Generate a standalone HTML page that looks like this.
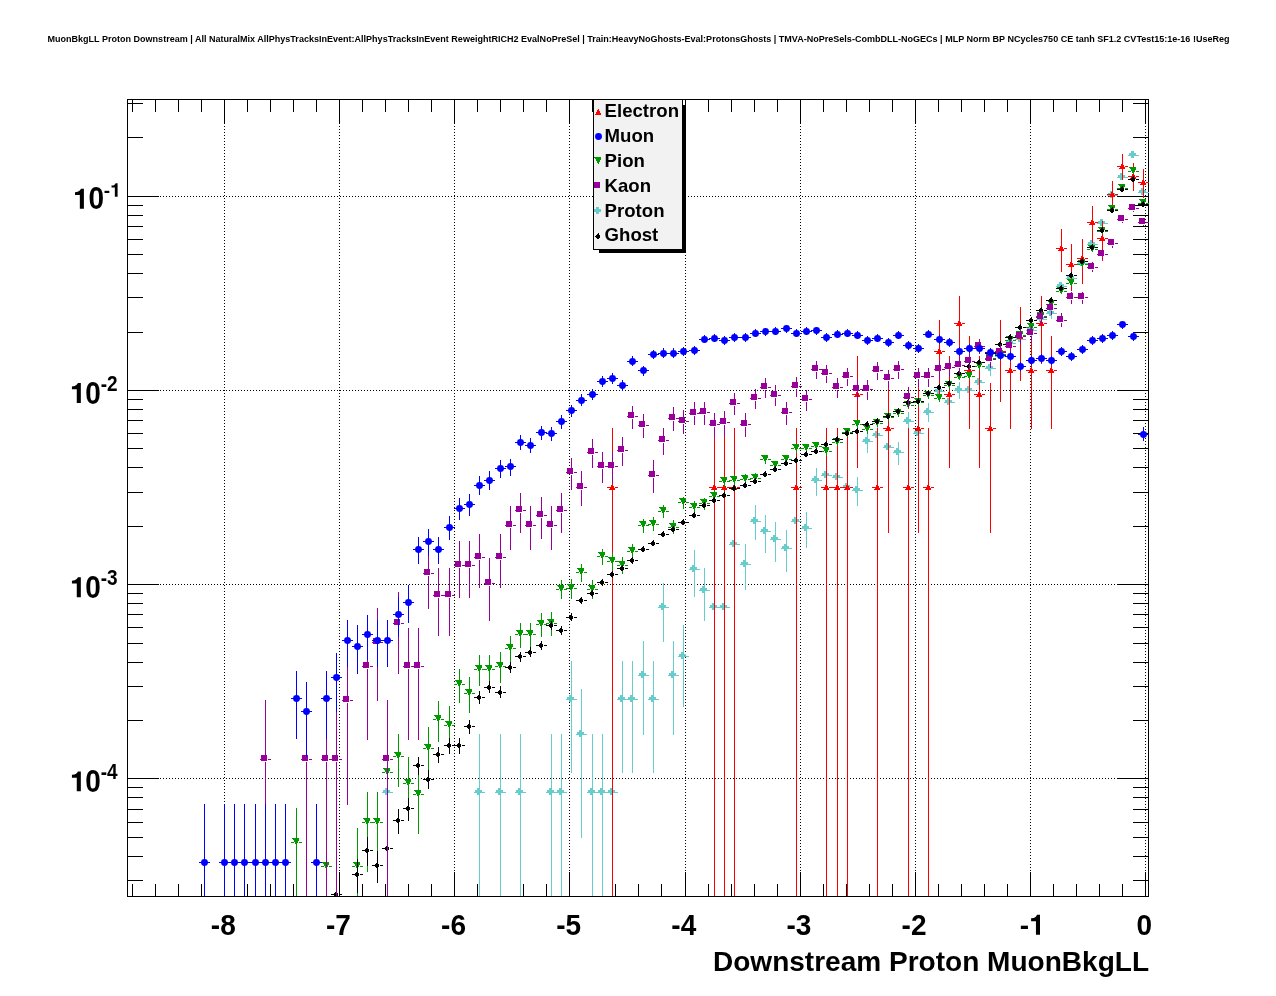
<!DOCTYPE html><html><head><meta charset="utf-8"><title>plot</title><style>
html,body{margin:0;padding:0;background:#fff;}body{width:1276px;height:996px;overflow:hidden;font-family:"Liberation Sans",sans-serif;}
svg{display:block;will-change:transform;}text{font-family:"Liberation Sans",sans-serif;font-weight:bold;fill:#000;}
.ax line,.ax rect{stroke:#000;stroke-width:1;fill:none;shape-rendering:crispEdges;}
.gr line{stroke:#000;stroke-width:1;stroke-dasharray:1 2;shape-rendering:crispEdges;}
</style></head><body>
<svg width="1276" height="996" viewBox="0 0 1276 996">
<rect x="0" y="0" width="1276" height="996" fill="#ffffff"/>
<text x="47.5" y="42" font-size="9.05" textLength="1182" lengthAdjust="spacingAndGlyphs">MuonBkgLL Proton Downstream | All NaturalMix AllPhysTracksInEvent:AllPhysTracksInEvent ReweightRICH2 EvalNoPreSel | Train:HeavyNoGhosts-Eval:ProtonsGhosts | TMVA-NoPreSels-CombDLL-NoGECs | MLP Norm BP NCycles750 CE tanh SF1.2 CVTest15:1e-16 !UseReg</text>
<g class="gr">
<line x1="224.5" y1="126" x2="224.5" y2="872"/>
<line x1="339.5" y1="126" x2="339.5" y2="872"/>
<line x1="454.5" y1="126" x2="454.5" y2="872"/>
<line x1="569.5" y1="126" x2="569.5" y2="872"/>
<line x1="685.5" y1="126" x2="685.5" y2="872"/>
<line x1="800.5" y1="126" x2="800.5" y2="872"/>
<line x1="915.5" y1="126" x2="915.5" y2="872"/>
<line x1="1030.5" y1="126" x2="1030.5" y2="872"/>
<line x1="1145.5" y1="126" x2="1145.5" y2="872"/>
<line x1="160" y1="196.5" x2="1117" y2="196.5"/>
<line x1="160" y1="390.5" x2="1117" y2="390.5"/>
<line x1="160" y1="584.5" x2="1117" y2="584.5"/>
<line x1="160" y1="778.5" x2="1117" y2="778.5"/>
</g>
<g class="ax">
<rect x="127.5" y="99.5" width="1021.0" height="797.0"/>
<line x1="132.5" y1="896.5" x2="132.5" y2="884.0"/>
<line x1="132.5" y1="99.5" x2="132.5" y2="112.0"/>
<line x1="155.5" y1="896.5" x2="155.5" y2="884.0"/>
<line x1="155.5" y1="99.5" x2="155.5" y2="112.0"/>
<line x1="178.5" y1="896.5" x2="178.5" y2="884.0"/>
<line x1="178.5" y1="99.5" x2="178.5" y2="112.0"/>
<line x1="201.5" y1="896.5" x2="201.5" y2="884.0"/>
<line x1="201.5" y1="99.5" x2="201.5" y2="112.0"/>
<line x1="224.5" y1="896.5" x2="224.5" y2="872.0"/>
<line x1="224.5" y1="99.5" x2="224.5" y2="124.0"/>
<line x1="247.5" y1="896.5" x2="247.5" y2="884.0"/>
<line x1="247.5" y1="99.5" x2="247.5" y2="112.0"/>
<line x1="270.5" y1="896.5" x2="270.5" y2="884.0"/>
<line x1="270.5" y1="99.5" x2="270.5" y2="112.0"/>
<line x1="293.5" y1="896.5" x2="293.5" y2="884.0"/>
<line x1="293.5" y1="99.5" x2="293.5" y2="112.0"/>
<line x1="316.5" y1="896.5" x2="316.5" y2="884.0"/>
<line x1="316.5" y1="99.5" x2="316.5" y2="112.0"/>
<line x1="339.5" y1="896.5" x2="339.5" y2="872.0"/>
<line x1="339.5" y1="99.5" x2="339.5" y2="124.0"/>
<line x1="362.5" y1="896.5" x2="362.5" y2="884.0"/>
<line x1="362.5" y1="99.5" x2="362.5" y2="112.0"/>
<line x1="385.5" y1="896.5" x2="385.5" y2="884.0"/>
<line x1="385.5" y1="99.5" x2="385.5" y2="112.0"/>
<line x1="408.5" y1="896.5" x2="408.5" y2="884.0"/>
<line x1="408.5" y1="99.5" x2="408.5" y2="112.0"/>
<line x1="431.5" y1="896.5" x2="431.5" y2="884.0"/>
<line x1="431.5" y1="99.5" x2="431.5" y2="112.0"/>
<line x1="454.5" y1="896.5" x2="454.5" y2="872.0"/>
<line x1="454.5" y1="99.5" x2="454.5" y2="124.0"/>
<line x1="477.5" y1="896.5" x2="477.5" y2="884.0"/>
<line x1="477.5" y1="99.5" x2="477.5" y2="112.0"/>
<line x1="500.5" y1="896.5" x2="500.5" y2="884.0"/>
<line x1="500.5" y1="99.5" x2="500.5" y2="112.0"/>
<line x1="523.5" y1="896.5" x2="523.5" y2="884.0"/>
<line x1="523.5" y1="99.5" x2="523.5" y2="112.0"/>
<line x1="546.5" y1="896.5" x2="546.5" y2="884.0"/>
<line x1="546.5" y1="99.5" x2="546.5" y2="112.0"/>
<line x1="569.5" y1="896.5" x2="569.5" y2="872.0"/>
<line x1="569.5" y1="99.5" x2="569.5" y2="124.0"/>
<line x1="592.5" y1="896.5" x2="592.5" y2="884.0"/>
<line x1="592.5" y1="99.5" x2="592.5" y2="112.0"/>
<line x1="615.5" y1="896.5" x2="615.5" y2="884.0"/>
<line x1="615.5" y1="99.5" x2="615.5" y2="112.0"/>
<line x1="638.5" y1="896.5" x2="638.5" y2="884.0"/>
<line x1="638.5" y1="99.5" x2="638.5" y2="112.0"/>
<line x1="661.5" y1="896.5" x2="661.5" y2="884.0"/>
<line x1="661.5" y1="99.5" x2="661.5" y2="112.0"/>
<line x1="685.5" y1="896.5" x2="685.5" y2="872.0"/>
<line x1="685.5" y1="99.5" x2="685.5" y2="124.0"/>
<line x1="708.5" y1="896.5" x2="708.5" y2="884.0"/>
<line x1="708.5" y1="99.5" x2="708.5" y2="112.0"/>
<line x1="731.5" y1="896.5" x2="731.5" y2="884.0"/>
<line x1="731.5" y1="99.5" x2="731.5" y2="112.0"/>
<line x1="754.5" y1="896.5" x2="754.5" y2="884.0"/>
<line x1="754.5" y1="99.5" x2="754.5" y2="112.0"/>
<line x1="777.5" y1="896.5" x2="777.5" y2="884.0"/>
<line x1="777.5" y1="99.5" x2="777.5" y2="112.0"/>
<line x1="800.5" y1="896.5" x2="800.5" y2="872.0"/>
<line x1="800.5" y1="99.5" x2="800.5" y2="124.0"/>
<line x1="823.5" y1="896.5" x2="823.5" y2="884.0"/>
<line x1="823.5" y1="99.5" x2="823.5" y2="112.0"/>
<line x1="846.5" y1="896.5" x2="846.5" y2="884.0"/>
<line x1="846.5" y1="99.5" x2="846.5" y2="112.0"/>
<line x1="869.5" y1="896.5" x2="869.5" y2="884.0"/>
<line x1="869.5" y1="99.5" x2="869.5" y2="112.0"/>
<line x1="892.5" y1="896.5" x2="892.5" y2="884.0"/>
<line x1="892.5" y1="99.5" x2="892.5" y2="112.0"/>
<line x1="915.5" y1="896.5" x2="915.5" y2="872.0"/>
<line x1="915.5" y1="99.5" x2="915.5" y2="124.0"/>
<line x1="938.5" y1="896.5" x2="938.5" y2="884.0"/>
<line x1="938.5" y1="99.5" x2="938.5" y2="112.0"/>
<line x1="961.5" y1="896.5" x2="961.5" y2="884.0"/>
<line x1="961.5" y1="99.5" x2="961.5" y2="112.0"/>
<line x1="984.5" y1="896.5" x2="984.5" y2="884.0"/>
<line x1="984.5" y1="99.5" x2="984.5" y2="112.0"/>
<line x1="1007.5" y1="896.5" x2="1007.5" y2="884.0"/>
<line x1="1007.5" y1="99.5" x2="1007.5" y2="112.0"/>
<line x1="1030.5" y1="896.5" x2="1030.5" y2="872.0"/>
<line x1="1030.5" y1="99.5" x2="1030.5" y2="124.0"/>
<line x1="1053.5" y1="896.5" x2="1053.5" y2="884.0"/>
<line x1="1053.5" y1="99.5" x2="1053.5" y2="112.0"/>
<line x1="1076.5" y1="896.5" x2="1076.5" y2="884.0"/>
<line x1="1076.5" y1="99.5" x2="1076.5" y2="112.0"/>
<line x1="1099.5" y1="896.5" x2="1099.5" y2="884.0"/>
<line x1="1099.5" y1="99.5" x2="1099.5" y2="112.0"/>
<line x1="1122.5" y1="896.5" x2="1122.5" y2="884.0"/>
<line x1="1122.5" y1="99.5" x2="1122.5" y2="112.0"/>
<line x1="1145.5" y1="896.5" x2="1145.5" y2="872.0"/>
<line x1="1145.5" y1="99.5" x2="1145.5" y2="124.0"/>
<line x1="127.5" y1="880.5" x2="143.0" y2="880.5"/>
<line x1="1148.5" y1="880.5" x2="1133.0" y2="880.5"/>
<line x1="127.5" y1="856.5" x2="143.0" y2="856.5"/>
<line x1="1148.5" y1="856.5" x2="1133.0" y2="856.5"/>
<line x1="127.5" y1="837.5" x2="143.0" y2="837.5"/>
<line x1="1148.5" y1="837.5" x2="1133.0" y2="837.5"/>
<line x1="127.5" y1="822.5" x2="143.0" y2="822.5"/>
<line x1="1148.5" y1="822.5" x2="1133.0" y2="822.5"/>
<line x1="127.5" y1="809.5" x2="143.0" y2="809.5"/>
<line x1="1148.5" y1="809.5" x2="1133.0" y2="809.5"/>
<line x1="127.5" y1="797.5" x2="143.0" y2="797.5"/>
<line x1="1148.5" y1="797.5" x2="1133.0" y2="797.5"/>
<line x1="127.5" y1="787.5" x2="143.0" y2="787.5"/>
<line x1="1148.5" y1="787.5" x2="1133.0" y2="787.5"/>
<line x1="127.5" y1="778.5" x2="159.0" y2="778.5"/>
<line x1="1148.5" y1="778.5" x2="1117.0" y2="778.5"/>
<line x1="127.5" y1="720.5" x2="143.0" y2="720.5"/>
<line x1="1148.5" y1="720.5" x2="1133.0" y2="720.5"/>
<line x1="127.5" y1="686.5" x2="143.0" y2="686.5"/>
<line x1="1148.5" y1="686.5" x2="1133.0" y2="686.5"/>
<line x1="127.5" y1="662.5" x2="143.0" y2="662.5"/>
<line x1="1148.5" y1="662.5" x2="1133.0" y2="662.5"/>
<line x1="127.5" y1="643.5" x2="143.0" y2="643.5"/>
<line x1="1148.5" y1="643.5" x2="1133.0" y2="643.5"/>
<line x1="127.5" y1="627.5" x2="143.0" y2="627.5"/>
<line x1="1148.5" y1="627.5" x2="1133.0" y2="627.5"/>
<line x1="127.5" y1="614.5" x2="143.0" y2="614.5"/>
<line x1="1148.5" y1="614.5" x2="1133.0" y2="614.5"/>
<line x1="127.5" y1="603.5" x2="143.0" y2="603.5"/>
<line x1="1148.5" y1="603.5" x2="1133.0" y2="603.5"/>
<line x1="127.5" y1="593.5" x2="143.0" y2="593.5"/>
<line x1="1148.5" y1="593.5" x2="1133.0" y2="593.5"/>
<line x1="127.5" y1="584.5" x2="159.0" y2="584.5"/>
<line x1="1148.5" y1="584.5" x2="1117.0" y2="584.5"/>
<line x1="127.5" y1="526.5" x2="143.0" y2="526.5"/>
<line x1="1148.5" y1="526.5" x2="1133.0" y2="526.5"/>
<line x1="127.5" y1="492.5" x2="143.0" y2="492.5"/>
<line x1="1148.5" y1="492.5" x2="1133.0" y2="492.5"/>
<line x1="127.5" y1="467.5" x2="143.0" y2="467.5"/>
<line x1="1148.5" y1="467.5" x2="1133.0" y2="467.5"/>
<line x1="127.5" y1="448.5" x2="143.0" y2="448.5"/>
<line x1="1148.5" y1="448.5" x2="1133.0" y2="448.5"/>
<line x1="127.5" y1="433.5" x2="143.0" y2="433.5"/>
<line x1="1148.5" y1="433.5" x2="1133.0" y2="433.5"/>
<line x1="127.5" y1="420.5" x2="143.0" y2="420.5"/>
<line x1="1148.5" y1="420.5" x2="1133.0" y2="420.5"/>
<line x1="127.5" y1="409.5" x2="143.0" y2="409.5"/>
<line x1="1148.5" y1="409.5" x2="1133.0" y2="409.5"/>
<line x1="127.5" y1="399.5" x2="143.0" y2="399.5"/>
<line x1="1148.5" y1="399.5" x2="1133.0" y2="399.5"/>
<line x1="127.5" y1="390.5" x2="159.0" y2="390.5"/>
<line x1="1148.5" y1="390.5" x2="1117.0" y2="390.5"/>
<line x1="127.5" y1="332.5" x2="143.0" y2="332.5"/>
<line x1="1148.5" y1="332.5" x2="1133.0" y2="332.5"/>
<line x1="127.5" y1="297.5" x2="143.0" y2="297.5"/>
<line x1="1148.5" y1="297.5" x2="1133.0" y2="297.5"/>
<line x1="127.5" y1="273.5" x2="143.0" y2="273.5"/>
<line x1="1148.5" y1="273.5" x2="1133.0" y2="273.5"/>
<line x1="127.5" y1="254.5" x2="143.0" y2="254.5"/>
<line x1="1148.5" y1="254.5" x2="1133.0" y2="254.5"/>
<line x1="127.5" y1="239.5" x2="143.0" y2="239.5"/>
<line x1="1148.5" y1="239.5" x2="1133.0" y2="239.5"/>
<line x1="127.5" y1="226.5" x2="143.0" y2="226.5"/>
<line x1="1148.5" y1="226.5" x2="1133.0" y2="226.5"/>
<line x1="127.5" y1="215.5" x2="143.0" y2="215.5"/>
<line x1="1148.5" y1="215.5" x2="1133.0" y2="215.5"/>
<line x1="127.5" y1="205.5" x2="143.0" y2="205.5"/>
<line x1="1148.5" y1="205.5" x2="1133.0" y2="205.5"/>
<line x1="127.5" y1="196.5" x2="159.0" y2="196.5"/>
<line x1="1148.5" y1="196.5" x2="1117.0" y2="196.5"/>
<line x1="127.5" y1="137.5" x2="143.0" y2="137.5"/>
<line x1="1148.5" y1="137.5" x2="1133.0" y2="137.5"/>
<line x1="127.5" y1="103.5" x2="143.0" y2="103.5"/>
<line x1="1148.5" y1="103.5" x2="1133.0" y2="103.5"/>
</g>
<g fill="#66cccc"><path shape-rendering="crispEdges" d="M382 792h3v1h-3zM390 792h3v1h-3zM387 734h1v56h-1zM387 795h1v101h-1zM474 792h3v1h-3zM482 792h3v1h-3zM479 734h1v56h-1zM479 795h1v101h-1zM495 792h3v1h-3zM503 792h3v1h-3zM500 734h1v56h-1zM500 795h1v101h-1zM515 792h3v1h-3zM523 792h3v1h-3zM520 734h1v56h-1zM520 795h1v101h-1zM546 792h3v1h-3zM554 792h3v1h-3zM551 734h1v56h-1zM551 795h1v101h-1zM556 792h3v1h-3zM564 792h3v1h-3zM561 734h1v56h-1zM561 795h1v101h-1zM566 699h3v1h-3zM574 699h3v1h-3zM571 661h1v36h-1zM571 702h1v71h-1zM576 734h3v1h-3zM584 734h3v1h-3zM581 689h1v43h-1zM581 737h1v101h-1zM587 792h3v1h-3zM595 792h3v1h-3zM592 734h1v56h-1zM592 795h1v101h-1zM597 792h3v1h-3zM605 792h3v1h-3zM602 734h1v56h-1zM602 795h1v101h-1zM607 792h3v1h-3zM615 792h3v1h-3zM612 734h1v56h-1zM612 795h1v101h-1zM617 699h3v1h-3zM625 699h3v1h-3zM622 661h1v36h-1zM622 702h1v71h-1zM627 699h3v1h-3zM635 699h3v1h-3zM632 661h1v36h-1zM632 702h1v71h-1zM638 675h3v1h-3zM646 675h3v1h-3zM643 641h1v32h-1zM643 678h1v57h-1zM648 699h3v1h-3zM656 699h3v1h-3zM653 661h1v36h-1zM653 702h1v71h-1zM658 607h3v1h-3zM666 607h3v1h-3zM663 583h1v22h-1zM663 610h1v32h-1zM668 675h3v1h-3zM676 675h3v1h-3zM673 641h1v32h-1zM673 678h1v57h-1zM678 656h3v1h-3zM686 656h3v1h-3zM683 625h1v29h-1zM683 659h1v48h-1zM689 569h3v1h-3zM697 569h3v1h-3zM694 550h1v17h-1zM694 572h1v25h-1zM699 590h3v1h-3zM707 590h3v1h-3zM704 568h1v20h-1zM704 593h1v28h-1zM709 607h3v1h-3zM717 607h3v1h-3zM714 583h1v22h-1zM714 610h1v32h-1zM719 607h3v1h-3zM727 607h3v1h-3zM724 583h1v22h-1zM724 610h1v32h-1zM729 544h3v1h-3zM737 544h3v1h-3zM734 526h1v16h-1zM734 547h1v20h-1zM740 564h3v1h-3zM748 564h3v1h-3zM745 544h1v18h-1zM745 567h1v23h-1zM750 521h3v1h-3zM758 521h3v1h-3zM755 505h1v14h-1zM755 524h1v16h-1zM760 531h3v1h-3zM768 531h3v1h-3zM765 515h1v14h-1zM765 534h1v19h-1zM770 539h3v1h-3zM778 539h3v1h-3zM775 522h1v15h-1zM775 542h1v20h-1zM781 548h3v1h-3zM789 548h3v1h-3zM786 530h1v16h-1zM786 551h1v21h-1zM791 521h3v1h-3zM799 521h3v1h-3zM796 505h1v14h-1zM796 524h1v16h-1zM801 528h3v1h-3zM809 528h3v1h-3zM806 512h1v14h-1zM806 531h1v17h-1zM811 480h3v1h-3zM819 480h3v1h-3zM816 468h1v10h-1zM816 483h1v13h-1zM821 475h3v1h-3zM829 475h3v1h-3zM826 463h1v10h-1zM826 478h1v12h-1zM832 477h3v1h-3zM840 477h3v1h-3zM837 465h1v10h-1zM837 480h1v12h-1zM842 487h3v1h-3zM850 487h3v1h-3zM847 474h1v11h-1zM847 490h1v13h-1zM852 490h3v1h-3zM860 490h3v1h-3zM857 477h1v11h-1zM857 493h1v13h-1zM862 441h3v1h-3zM870 441h3v1h-3zM867 431h1v8h-1zM867 444h1v9h-1zM872 435h3v1h-3zM880 435h3v1h-3zM877 426h1v7h-1zM877 438h1v9h-1zM883 447h3v1h-3zM891 447h3v1h-3zM888 437h1v8h-1zM888 450h1v9h-1zM893 452h3v1h-3zM901 452h3v1h-3zM898 442h1v8h-1zM898 455h1v10h-1zM903 421h3v1h-3zM911 421h3v1h-3zM908 412h1v7h-1zM908 424h1v8h-1zM913 433h3v1h-3zM921 433h3v1h-3zM918 424h1v7h-1zM918 436h1v9h-1zM923 412h3v1h-3zM931 412h3v1h-3zM928 403h1v7h-1zM928 415h1v7h-1zM934 391h3v1h-3zM942 391h3v1h-3zM939 383h1v6h-1zM939 394h1v6h-1zM944 402h3v1h-3zM952 402h3v1h-3zM949 394h1v6h-1zM949 405h1v7h-1zM954 390h3v1h-3zM962 390h3v1h-3zM959 382h1v6h-1zM959 393h1v6h-1zM964 390h3v1h-3zM972 390h3v1h-3zM969 382h1v6h-1zM969 393h1v6h-1zM974 382h3v1h-3zM982 382h3v1h-3zM979 375h1v5h-1zM979 385h1v6h-1zM985 368h3v1h-3zM993 368h3v1h-3zM990 362h1v4h-1zM990 371h1v5h-1zM995 356h3v1h-3zM1003 356h3v1h-3zM1000 349h1v5h-1zM1000 359h1v4h-1zM1005 343h3v1h-3zM1013 343h3v1h-3zM1010 338h1v3h-1zM1010 346h1v5h-1zM1015 339h3v1h-3zM1023 339h3v1h-3zM1020 333h1v4h-1zM1020 342h1v4h-1zM1026 330h3v1h-3zM1034 330h3v1h-3zM1031 324h1v4h-1zM1031 333h1v3h-1zM1036 319h3v1h-3zM1044 319h3v1h-3zM1041 314h1v3h-1zM1041 322h1v3h-1zM1046 313h3v1h-3zM1054 313h3v1h-3zM1051 308h1v3h-1zM1051 316h1v3h-1zM1056 286h3v1h-3zM1064 286h3v1h-3zM1061 282h1v2h-1zM1061 289h1v2h-1zM1066 278h3v1h-3zM1074 278h3v1h-3zM1071 274h1v2h-1zM1071 281h1v2h-1zM1077 263h3v1h-3zM1085 263h3v1h-3zM1082 259h1v2h-1zM1082 266h1v1h-1zM1087 244h3v1h-3zM1095 244h3v1h-3zM1092 240h1v2h-1zM1092 247h1v1h-1zM1097 223h3v1h-3zM1105 223h3v1h-3zM1102 220h1v1h-1zM1102 226h1v1h-1zM1107 195h3v1h-3zM1115 195h3v1h-3zM1117 177h3v1h-3zM1125 177h3v1h-3zM1122 174h1v1h-1zM1128 155h3v1h-3zM1136 155h3v1h-3zM1138 192h3v1h-3zM1146 192h3v1h-3zM1143 189h1v1h-1zM385 788h3v7h-3zM383 790h7v3h-7zM477 788h3v7h-3zM475 790h7v3h-7zM498 788h3v7h-3zM496 790h7v3h-7zM518 788h3v7h-3zM516 790h7v3h-7zM549 788h3v7h-3zM547 790h7v3h-7zM559 788h3v7h-3zM557 790h7v3h-7zM569 695h3v7h-3zM567 697h7v3h-7zM579 730h3v7h-3zM577 732h7v3h-7zM590 788h3v7h-3zM588 790h7v3h-7zM600 788h3v7h-3zM598 790h7v3h-7zM610 788h3v7h-3zM608 790h7v3h-7zM620 695h3v7h-3zM618 697h7v3h-7zM630 695h3v7h-3zM628 697h7v3h-7zM641 671h3v7h-3zM639 673h7v3h-7zM651 695h3v7h-3zM649 697h7v3h-7zM661 603h3v7h-3zM659 605h7v3h-7zM671 671h3v7h-3zM669 673h7v3h-7zM681 652h3v7h-3zM679 654h7v3h-7zM692 565h3v7h-3zM690 567h7v3h-7zM702 586h3v7h-3zM700 588h7v3h-7zM712 603h3v7h-3zM710 605h7v3h-7zM722 603h3v7h-3zM720 605h7v3h-7zM732 540h3v7h-3zM730 542h7v3h-7zM743 560h3v7h-3zM741 562h7v3h-7zM753 517h3v7h-3zM751 519h7v3h-7zM763 527h3v7h-3zM761 529h7v3h-7zM773 535h3v7h-3zM771 537h7v3h-7zM784 544h3v7h-3zM782 546h7v3h-7zM794 517h3v7h-3zM792 519h7v3h-7zM804 524h3v7h-3zM802 526h7v3h-7zM814 476h3v7h-3zM812 478h7v3h-7zM824 471h3v7h-3zM822 473h7v3h-7zM835 473h3v7h-3zM833 475h7v3h-7zM845 483h3v7h-3zM843 485h7v3h-7zM855 486h3v7h-3zM853 488h7v3h-7zM865 437h3v7h-3zM863 439h7v3h-7zM875 431h3v7h-3zM873 433h7v3h-7zM886 443h3v7h-3zM884 445h7v3h-7zM896 448h3v7h-3zM894 450h7v3h-7zM906 417h3v7h-3zM904 419h7v3h-7zM916 429h3v7h-3zM914 431h7v3h-7zM926 408h3v7h-3zM924 410h7v3h-7zM937 387h3v7h-3zM935 389h7v3h-7zM947 398h3v7h-3zM945 400h7v3h-7zM957 386h3v7h-3zM955 388h7v3h-7zM967 386h3v7h-3zM965 388h7v3h-7zM977 378h3v7h-3zM975 380h7v3h-7zM988 364h3v7h-3zM986 366h7v3h-7zM998 352h3v7h-3zM996 354h7v3h-7zM1008 339h3v7h-3zM1006 341h7v3h-7zM1018 335h3v7h-3zM1016 337h7v3h-7zM1029 326h3v7h-3zM1027 328h7v3h-7zM1039 315h3v7h-3zM1037 317h7v3h-7zM1049 309h3v7h-3zM1047 311h7v3h-7zM1059 282h3v7h-3zM1057 284h7v3h-7zM1069 274h3v7h-3zM1067 276h7v3h-7zM1080 259h3v7h-3zM1078 261h7v3h-7zM1090 240h3v7h-3zM1088 242h7v3h-7zM1100 219h3v7h-3zM1098 221h7v3h-7zM1110 191h3v7h-3zM1108 193h7v3h-7zM1120 173h3v7h-3zM1118 175h7v3h-7zM1131 151h3v7h-3zM1129 153h7v3h-7zM1141 188h3v7h-3zM1139 190h7v3h-7z"/></g>
<g fill="#ff0000"><path shape-rendering="crispEdges" d="M607 487h3v1h-3zM615 487h3v1h-3zM612 428h1v57h-1zM612 490h1v406h-1zM709 487h3v1h-3zM717 487h3v1h-3zM714 428h1v57h-1zM714 490h1v406h-1zM719 487h3v1h-3zM727 487h3v1h-3zM724 428h1v57h-1zM724 490h1v406h-1zM729 487h3v1h-3zM737 487h3v1h-3zM734 428h1v57h-1zM734 490h1v406h-1zM791 487h3v1h-3zM799 487h3v1h-3zM796 428h1v57h-1zM796 490h1v406h-1zM821 487h3v1h-3zM829 487h3v1h-3zM826 428h1v57h-1zM826 490h1v406h-1zM832 487h3v1h-3zM840 487h3v1h-3zM837 428h1v57h-1zM837 490h1v406h-1zM842 487h3v1h-3zM850 487h3v1h-3zM847 428h1v57h-1zM847 490h1v406h-1zM852 394h3v1h-3zM860 394h3v1h-3zM857 356h1v36h-1zM857 397h1v71h-1zM872 487h3v1h-3zM880 487h3v1h-3zM877 428h1v57h-1zM877 490h1v406h-1zM883 428h3v1h-3zM891 428h3v1h-3zM888 383h1v43h-1zM888 431h1v102h-1zM903 487h3v1h-3zM911 487h3v1h-3zM908 428h1v57h-1zM908 490h1v406h-1zM913 428h3v1h-3zM921 428h3v1h-3zM918 383h1v43h-1zM918 431h1v102h-1zM923 487h3v1h-3zM931 487h3v1h-3zM928 428h1v57h-1zM928 490h1v406h-1zM934 351h3v1h-3zM942 351h3v1h-3zM939 320h1v29h-1zM939 354h1v48h-1zM944 394h3v1h-3zM952 394h3v1h-3zM949 356h1v36h-1zM949 397h1v71h-1zM954 323h3v1h-3zM962 323h3v1h-3zM959 296h1v25h-1zM959 326h1v38h-1zM964 370h3v1h-3zM972 370h3v1h-3zM969 336h1v32h-1zM969 373h1v56h-1zM974 394h3v1h-3zM982 394h3v1h-3zM979 356h1v36h-1zM979 397h1v71h-1zM985 428h3v1h-3zM993 428h3v1h-3zM990 383h1v43h-1zM990 431h1v102h-1zM995 351h3v1h-3zM1003 351h3v1h-3zM1000 320h1v29h-1zM1000 354h1v48h-1zM1005 370h3v1h-3zM1013 370h3v1h-3zM1010 336h1v32h-1zM1010 373h1v56h-1zM1015 336h3v1h-3zM1023 336h3v1h-3zM1020 307h1v27h-1zM1020 339h1v42h-1zM1026 370h3v1h-3zM1034 370h3v1h-3zM1031 336h1v32h-1zM1031 373h1v56h-1zM1036 323h3v1h-3zM1044 323h3v1h-3zM1041 296h1v25h-1zM1041 326h1v38h-1zM1046 370h3v1h-3zM1054 370h3v1h-3zM1051 336h1v32h-1zM1051 373h1v56h-1zM1056 248h3v1h-3zM1064 248h3v1h-3zM1061 229h1v17h-1zM1061 251h1v21h-1zM1066 264h3v1h-3zM1074 264h3v1h-3zM1071 244h1v18h-1zM1071 267h1v24h-1zM1077 258h3v1h-3zM1085 258h3v1h-3zM1082 239h1v17h-1zM1082 261h1v23h-1zM1087 222h3v1h-3zM1095 222h3v1h-3zM1092 206h1v14h-1zM1092 225h1v18h-1zM1097 238h3v1h-3zM1105 238h3v1h-3zM1102 221h1v15h-1zM1102 241h1v20h-1zM1107 194h3v1h-3zM1115 194h3v1h-3zM1112 181h1v11h-1zM1112 197h1v15h-1zM1117 166h3v1h-3zM1125 166h3v1h-3zM1122 154h1v10h-1zM1122 169h1v11h-1zM1128 176h3v1h-3zM1136 176h3v1h-3zM1133 163h1v11h-1zM1133 179h1v12h-1zM1138 182h3v1h-3zM1146 182h3v1h-3zM1143 169h1v11h-1zM1143 185h1v13h-1zM612 484h1v1h-1zM611 485h2v1h-2zM611 486h3v1h-3zM610 487h4v1h-4zM610 488h5v1h-5zM609 489h6v1h-6zM714 484h1v1h-1zM713 485h2v1h-2zM713 486h3v1h-3zM712 487h4v1h-4zM712 488h5v1h-5zM711 489h6v1h-6zM724 484h1v1h-1zM723 485h2v1h-2zM723 486h3v1h-3zM722 487h4v1h-4zM722 488h5v1h-5zM721 489h6v1h-6zM734 484h1v1h-1zM733 485h2v1h-2zM733 486h3v1h-3zM732 487h4v1h-4zM732 488h5v1h-5zM731 489h6v1h-6zM796 484h1v1h-1zM795 485h2v1h-2zM795 486h3v1h-3zM794 487h4v1h-4zM794 488h5v1h-5zM793 489h6v1h-6zM826 484h1v1h-1zM825 485h2v1h-2zM825 486h3v1h-3zM824 487h4v1h-4zM824 488h5v1h-5zM823 489h6v1h-6zM837 484h1v1h-1zM836 485h2v1h-2zM836 486h3v1h-3zM835 487h4v1h-4zM835 488h5v1h-5zM834 489h6v1h-6zM847 484h1v1h-1zM846 485h2v1h-2zM846 486h3v1h-3zM845 487h4v1h-4zM845 488h5v1h-5zM844 489h6v1h-6zM857 391h1v1h-1zM856 392h2v1h-2zM856 393h3v1h-3zM855 394h4v1h-4zM855 395h5v1h-5zM854 396h6v1h-6zM877 484h1v1h-1zM876 485h2v1h-2zM876 486h3v1h-3zM875 487h4v1h-4zM875 488h5v1h-5zM874 489h6v1h-6zM888 425h1v1h-1zM887 426h2v1h-2zM887 427h3v1h-3zM886 428h4v1h-4zM886 429h5v1h-5zM885 430h6v1h-6zM908 484h1v1h-1zM907 485h2v1h-2zM907 486h3v1h-3zM906 487h4v1h-4zM906 488h5v1h-5zM905 489h6v1h-6zM918 425h1v1h-1zM917 426h2v1h-2zM917 427h3v1h-3zM916 428h4v1h-4zM916 429h5v1h-5zM915 430h6v1h-6zM928 484h1v1h-1zM927 485h2v1h-2zM927 486h3v1h-3zM926 487h4v1h-4zM926 488h5v1h-5zM925 489h6v1h-6zM939 348h1v1h-1zM938 349h2v1h-2zM938 350h3v1h-3zM937 351h4v1h-4zM937 352h5v1h-5zM936 353h6v1h-6zM949 391h1v1h-1zM948 392h2v1h-2zM948 393h3v1h-3zM947 394h4v1h-4zM947 395h5v1h-5zM946 396h6v1h-6zM959 320h1v1h-1zM958 321h2v1h-2zM958 322h3v1h-3zM957 323h4v1h-4zM957 324h5v1h-5zM956 325h6v1h-6zM969 367h1v1h-1zM968 368h2v1h-2zM968 369h3v1h-3zM967 370h4v1h-4zM967 371h5v1h-5zM966 372h6v1h-6zM979 391h1v1h-1zM978 392h2v1h-2zM978 393h3v1h-3zM977 394h4v1h-4zM977 395h5v1h-5zM976 396h6v1h-6zM990 425h1v1h-1zM989 426h2v1h-2zM989 427h3v1h-3zM988 428h4v1h-4zM988 429h5v1h-5zM987 430h6v1h-6zM1000 348h1v1h-1zM999 349h2v1h-2zM999 350h3v1h-3zM998 351h4v1h-4zM998 352h5v1h-5zM997 353h6v1h-6zM1010 367h1v1h-1zM1009 368h2v1h-2zM1009 369h3v1h-3zM1008 370h4v1h-4zM1008 371h5v1h-5zM1007 372h6v1h-6zM1020 333h1v1h-1zM1019 334h2v1h-2zM1019 335h3v1h-3zM1018 336h4v1h-4zM1018 337h5v1h-5zM1017 338h6v1h-6zM1031 367h1v1h-1zM1030 368h2v1h-2zM1030 369h3v1h-3zM1029 370h4v1h-4zM1029 371h5v1h-5zM1028 372h6v1h-6zM1041 320h1v1h-1zM1040 321h2v1h-2zM1040 322h3v1h-3zM1039 323h4v1h-4zM1039 324h5v1h-5zM1038 325h6v1h-6zM1051 367h1v1h-1zM1050 368h2v1h-2zM1050 369h3v1h-3zM1049 370h4v1h-4zM1049 371h5v1h-5zM1048 372h6v1h-6zM1061 245h1v1h-1zM1060 246h2v1h-2zM1060 247h3v1h-3zM1059 248h4v1h-4zM1059 249h5v1h-5zM1058 250h6v1h-6zM1071 261h1v1h-1zM1070 262h2v1h-2zM1070 263h3v1h-3zM1069 264h4v1h-4zM1069 265h5v1h-5zM1068 266h6v1h-6zM1082 255h1v1h-1zM1081 256h2v1h-2zM1081 257h3v1h-3zM1080 258h4v1h-4zM1080 259h5v1h-5zM1079 260h6v1h-6zM1092 219h1v1h-1zM1091 220h2v1h-2zM1091 221h3v1h-3zM1090 222h4v1h-4zM1090 223h5v1h-5zM1089 224h6v1h-6zM1102 235h1v1h-1zM1101 236h2v1h-2zM1101 237h3v1h-3zM1100 238h4v1h-4zM1100 239h5v1h-5zM1099 240h6v1h-6zM1112 191h1v1h-1zM1111 192h2v1h-2zM1111 193h3v1h-3zM1110 194h4v1h-4zM1110 195h5v1h-5zM1109 196h6v1h-6zM1122 163h1v1h-1zM1121 164h2v1h-2zM1121 165h3v1h-3zM1120 166h4v1h-4zM1120 167h5v1h-5zM1119 168h6v1h-6zM1133 173h1v1h-1zM1132 174h2v1h-2zM1132 175h3v1h-3zM1131 176h4v1h-4zM1131 177h5v1h-5zM1130 178h6v1h-6zM1143 179h1v1h-1zM1142 180h2v1h-2zM1142 181h3v1h-3zM1141 182h4v1h-4zM1141 183h5v1h-5zM1140 184h6v1h-6z"/></g>
<g fill="#009900"><path shape-rendering="crispEdges" d="M291 842h3v1h-3zM299 842h3v1h-3zM296 808h1v32h-1zM296 844h1v52h-1zM321 866h3v1h-3zM329 866h3v1h-3zM326 828h1v36h-1zM326 868h1v28h-1zM352 866h3v1h-3zM360 866h3v1h-3zM357 828h1v36h-1zM357 868h1v28h-1zM362 822h3v1h-3zM370 822h3v1h-3zM367 792h1v28h-1zM367 824h1v48h-1zM372 822h3v1h-3zM380 822h3v1h-3zM377 792h1v28h-1zM377 824h1v48h-1zM382 772h3v1h-3zM390 772h3v1h-3zM387 749h1v21h-1zM387 774h1v33h-1zM393 756h3v1h-3zM401 756h3v1h-3zM398 734h1v20h-1zM398 758h1v29h-1zM403 783h3v1h-3zM411 783h3v1h-3zM408 757h1v24h-1zM408 785h1v35h-1zM413 794h3v1h-3zM421 794h3v1h-3zM418 767h1v25h-1zM418 796h1v38h-1zM423 748h3v1h-3zM431 748h3v1h-3zM428 727h1v19h-1zM428 750h1v27h-1zM433 719h3v1h-3zM441 719h3v1h-3zM438 701h1v16h-1zM438 721h1v21h-1zM444 725h3v1h-3zM452 725h3v1h-3zM449 706h1v17h-1zM449 727h1v23h-1zM454 684h3v1h-3zM462 684h3v1h-3zM459 669h1v13h-1zM459 686h1v17h-1zM464 693h3v1h-3zM472 693h3v1h-3zM469 677h1v14h-1zM469 695h1v18h-1zM474 669h3v1h-3zM482 669h3v1h-3zM479 655h1v12h-1zM479 671h1v15h-1zM484 669h3v1h-3zM492 669h3v1h-3zM489 655h1v12h-1zM489 671h1v15h-1zM495 666h3v1h-3zM503 666h3v1h-3zM500 652h1v12h-1zM500 668h1v15h-1zM505 648h3v1h-3zM513 648h3v1h-3zM510 636h1v10h-1zM510 650h1v14h-1zM515 634h3v1h-3zM523 634h3v1h-3zM520 623h1v9h-1zM520 636h1v12h-1zM525 634h3v1h-3zM533 634h3v1h-3zM530 623h1v9h-1zM530 636h1v12h-1zM536 624h3v1h-3zM544 624h3v1h-3zM541 613h1v9h-1zM541 626h1v11h-1zM546 623h3v1h-3zM554 623h3v1h-3zM551 612h1v9h-1zM551 625h1v11h-1zM556 589h3v1h-3zM564 589h3v1h-3zM561 580h1v7h-1zM561 591h1v8h-1zM566 588h3v1h-3zM574 588h3v1h-3zM571 579h1v7h-1zM571 590h1v9h-1zM576 572h3v1h-3zM584 572h3v1h-3zM581 564h1v6h-1zM581 574h1v8h-1zM587 589h3v1h-3zM595 589h3v1h-3zM592 580h1v7h-1zM592 591h1v8h-1zM597 556h3v1h-3zM605 556h3v1h-3zM602 549h1v5h-1zM602 558h1v7h-1zM607 561h3v1h-3zM615 561h3v1h-3zM612 553h1v6h-1zM612 563h1v7h-1zM617 565h3v1h-3zM625 565h3v1h-3zM622 557h1v6h-1zM622 567h1v7h-1zM627 551h3v1h-3zM635 551h3v1h-3zM632 544h1v5h-1zM632 553h1v7h-1zM638 525h3v1h-3zM646 525h3v1h-3zM643 519h1v4h-1zM643 527h1v6h-1zM648 524h3v1h-3zM656 524h3v1h-3zM653 517h1v5h-1zM653 526h1v5h-1zM658 511h3v1h-3zM666 511h3v1h-3zM663 505h1v4h-1zM663 513h1v5h-1zM668 527h3v1h-3zM676 527h3v1h-3zM673 520h1v5h-1zM673 529h1v5h-1zM678 502h3v1h-3zM686 502h3v1h-3zM683 497h1v3h-1zM683 504h1v5h-1zM689 507h3v1h-3zM697 507h3v1h-3zM694 501h1v4h-1zM694 509h1v5h-1zM699 503h3v1h-3zM707 503h3v1h-3zM704 498h1v3h-1zM704 505h1v5h-1zM709 496h3v1h-3zM717 496h3v1h-3zM714 490h1v4h-1zM714 498h1v4h-1zM719 481h3v1h-3zM727 481h3v1h-3zM724 477h1v2h-1zM724 483h1v4h-1zM729 480h3v1h-3zM737 480h3v1h-3zM734 475h1v3h-1zM734 482h1v4h-1zM740 479h3v1h-3zM748 479h3v1h-3zM745 474h1v3h-1zM745 481h1v4h-1zM750 478h3v1h-3zM758 478h3v1h-3zM755 473h1v3h-1zM755 480h1v3h-1zM760 459h3v1h-3zM768 459h3v1h-3zM765 455h1v2h-1zM765 461h1v3h-1zM770 465h3v1h-3zM778 465h3v1h-3zM775 461h1v2h-1zM775 467h1v4h-1zM781 459h3v1h-3zM789 459h3v1h-3zM786 455h1v2h-1zM786 461h1v4h-1zM791 448h3v1h-3zM799 448h3v1h-3zM796 444h1v2h-1zM796 450h1v3h-1zM801 448h3v1h-3zM809 448h3v1h-3zM806 444h1v2h-1zM806 450h1v3h-1zM811 446h3v1h-3zM819 446h3v1h-3zM816 442h1v2h-1zM816 448h1v3h-1zM821 451h3v1h-3zM829 451h3v1h-3zM826 447h1v2h-1zM826 453h1v3h-1zM832 442h3v1h-3zM840 442h3v1h-3zM837 438h1v2h-1zM837 444h1v2h-1zM842 432h3v1h-3zM850 432h3v1h-3zM847 429h1v1h-1zM847 434h1v3h-1zM852 424h3v1h-3zM860 424h3v1h-3zM857 421h1v1h-1zM857 426h1v3h-1zM862 429h3v1h-3zM870 429h3v1h-3zM867 426h1v1h-1zM867 431h1v3h-1zM872 423h3v1h-3zM880 423h3v1h-3zM877 419h1v2h-1zM877 425h1v2h-1zM883 417h3v1h-3zM891 417h3v1h-3zM888 413h1v2h-1zM888 419h1v2h-1zM893 413h3v1h-3zM901 413h3v1h-3zM898 409h1v2h-1zM898 415h1v2h-1zM903 405h3v1h-3zM911 405h3v1h-3zM908 402h1v1h-1zM908 407h1v2h-1zM913 402h3v1h-3zM921 402h3v1h-3zM918 399h1v1h-1zM918 404h1v2h-1zM923 395h3v1h-3zM931 395h3v1h-3zM928 392h1v1h-1zM928 397h1v2h-1zM934 398h3v1h-3zM942 398h3v1h-3zM939 395h1v1h-1zM939 400h1v2h-1zM944 385h3v1h-3zM952 385h3v1h-3zM949 382h1v1h-1zM949 387h1v2h-1zM954 377h3v1h-3zM962 377h3v1h-3zM959 374h1v1h-1zM959 379h1v1h-1zM964 376h3v1h-3zM972 376h3v1h-3zM969 373h1v1h-1zM969 378h1v1h-1zM974 366h3v1h-3zM982 366h3v1h-3zM979 368h1v2h-1zM985 358h3v1h-3zM993 358h3v1h-3zM990 355h1v1h-1zM990 360h1v1h-1zM995 354h3v1h-3zM1003 354h3v1h-3zM1000 351h1v1h-1zM1000 356h1v1h-1zM1005 340h3v1h-3zM1013 340h3v1h-3zM1010 337h1v1h-1zM1010 342h1v1h-1zM1015 335h3v1h-3zM1023 335h3v1h-3zM1020 337h1v1h-1zM1026 327h3v1h-3zM1034 327h3v1h-3zM1031 329h1v1h-1zM1036 316h3v1h-3zM1044 316h3v1h-3zM1046 304h3v1h-3zM1054 304h3v1h-3zM1051 306h1v1h-1zM1056 291h3v1h-3zM1064 291h3v1h-3zM1061 293h1v1h-1zM1066 283h3v1h-3zM1074 283h3v1h-3zM1077 264h3v1h-3zM1085 264h3v1h-3zM1087 249h3v1h-3zM1095 249h3v1h-3zM1097 231h3v1h-3zM1105 231h3v1h-3zM1107 209h3v1h-3zM1115 209h3v1h-3zM1117 188h3v1h-3zM1125 188h3v1h-3zM1128 171h3v1h-3zM1136 171h3v1h-3zM1138 203h3v1h-3zM1146 203h3v1h-3zM292 838h7v1h-7zM293 839h6v1h-6zM294 840h5v1h-5zM294 841h4v1h-4zM295 842h3v1h-3zM295 843h2v1h-2zM296 844h1v1h-1zM322 862h7v1h-7zM323 863h6v1h-6zM324 864h5v1h-5zM324 865h4v1h-4zM325 866h3v1h-3zM325 867h2v1h-2zM326 868h1v1h-1zM353 862h7v1h-7zM354 863h6v1h-6zM355 864h5v1h-5zM355 865h4v1h-4zM356 866h3v1h-3zM356 867h2v1h-2zM357 868h1v1h-1zM363 818h7v1h-7zM364 819h6v1h-6zM365 820h5v1h-5zM365 821h4v1h-4zM366 822h3v1h-3zM366 823h2v1h-2zM367 824h1v1h-1zM373 818h7v1h-7zM374 819h6v1h-6zM375 820h5v1h-5zM375 821h4v1h-4zM376 822h3v1h-3zM376 823h2v1h-2zM377 824h1v1h-1zM383 768h7v1h-7zM384 769h6v1h-6zM385 770h5v1h-5zM385 771h4v1h-4zM386 772h3v1h-3zM386 773h2v1h-2zM387 774h1v1h-1zM394 752h7v1h-7zM395 753h6v1h-6zM396 754h5v1h-5zM396 755h4v1h-4zM397 756h3v1h-3zM397 757h2v1h-2zM398 758h1v1h-1zM404 779h7v1h-7zM405 780h6v1h-6zM406 781h5v1h-5zM406 782h4v1h-4zM407 783h3v1h-3zM407 784h2v1h-2zM408 785h1v1h-1zM414 790h7v1h-7zM415 791h6v1h-6zM416 792h5v1h-5zM416 793h4v1h-4zM417 794h3v1h-3zM417 795h2v1h-2zM418 796h1v1h-1zM424 744h7v1h-7zM425 745h6v1h-6zM426 746h5v1h-5zM426 747h4v1h-4zM427 748h3v1h-3zM427 749h2v1h-2zM428 750h1v1h-1zM434 715h7v1h-7zM435 716h6v1h-6zM436 717h5v1h-5zM436 718h4v1h-4zM437 719h3v1h-3zM437 720h2v1h-2zM438 721h1v1h-1zM445 721h7v1h-7zM446 722h6v1h-6zM447 723h5v1h-5zM447 724h4v1h-4zM448 725h3v1h-3zM448 726h2v1h-2zM449 727h1v1h-1zM455 680h7v1h-7zM456 681h6v1h-6zM457 682h5v1h-5zM457 683h4v1h-4zM458 684h3v1h-3zM458 685h2v1h-2zM459 686h1v1h-1zM465 689h7v1h-7zM466 690h6v1h-6zM467 691h5v1h-5zM467 692h4v1h-4zM468 693h3v1h-3zM468 694h2v1h-2zM469 695h1v1h-1zM475 665h7v1h-7zM476 666h6v1h-6zM477 667h5v1h-5zM477 668h4v1h-4zM478 669h3v1h-3zM478 670h2v1h-2zM479 671h1v1h-1zM485 665h7v1h-7zM486 666h6v1h-6zM487 667h5v1h-5zM487 668h4v1h-4zM488 669h3v1h-3zM488 670h2v1h-2zM489 671h1v1h-1zM496 662h7v1h-7zM497 663h6v1h-6zM498 664h5v1h-5zM498 665h4v1h-4zM499 666h3v1h-3zM499 667h2v1h-2zM500 668h1v1h-1zM506 644h7v1h-7zM507 645h6v1h-6zM508 646h5v1h-5zM508 647h4v1h-4zM509 648h3v1h-3zM509 649h2v1h-2zM510 650h1v1h-1zM516 630h7v1h-7zM517 631h6v1h-6zM518 632h5v1h-5zM518 633h4v1h-4zM519 634h3v1h-3zM519 635h2v1h-2zM520 636h1v1h-1zM526 630h7v1h-7zM527 631h6v1h-6zM528 632h5v1h-5zM528 633h4v1h-4zM529 634h3v1h-3zM529 635h2v1h-2zM530 636h1v1h-1zM537 620h7v1h-7zM538 621h6v1h-6zM539 622h5v1h-5zM539 623h4v1h-4zM540 624h3v1h-3zM540 625h2v1h-2zM541 626h1v1h-1zM547 619h7v1h-7zM548 620h6v1h-6zM549 621h5v1h-5zM549 622h4v1h-4zM550 623h3v1h-3zM550 624h2v1h-2zM551 625h1v1h-1zM557 585h7v1h-7zM558 586h6v1h-6zM559 587h5v1h-5zM559 588h4v1h-4zM560 589h3v1h-3zM560 590h2v1h-2zM561 591h1v1h-1zM567 584h7v1h-7zM568 585h6v1h-6zM569 586h5v1h-5zM569 587h4v1h-4zM570 588h3v1h-3zM570 589h2v1h-2zM571 590h1v1h-1zM577 568h7v1h-7zM578 569h6v1h-6zM579 570h5v1h-5zM579 571h4v1h-4zM580 572h3v1h-3zM580 573h2v1h-2zM581 574h1v1h-1zM588 585h7v1h-7zM589 586h6v1h-6zM590 587h5v1h-5zM590 588h4v1h-4zM591 589h3v1h-3zM591 590h2v1h-2zM592 591h1v1h-1zM598 552h7v1h-7zM599 553h6v1h-6zM600 554h5v1h-5zM600 555h4v1h-4zM601 556h3v1h-3zM601 557h2v1h-2zM602 558h1v1h-1zM608 557h7v1h-7zM609 558h6v1h-6zM610 559h5v1h-5zM610 560h4v1h-4zM611 561h3v1h-3zM611 562h2v1h-2zM612 563h1v1h-1zM618 561h7v1h-7zM619 562h6v1h-6zM620 563h5v1h-5zM620 564h4v1h-4zM621 565h3v1h-3zM621 566h2v1h-2zM622 567h1v1h-1zM628 547h7v1h-7zM629 548h6v1h-6zM630 549h5v1h-5zM630 550h4v1h-4zM631 551h3v1h-3zM631 552h2v1h-2zM632 553h1v1h-1zM639 521h7v1h-7zM640 522h6v1h-6zM641 523h5v1h-5zM641 524h4v1h-4zM642 525h3v1h-3zM642 526h2v1h-2zM643 527h1v1h-1zM649 520h7v1h-7zM650 521h6v1h-6zM651 522h5v1h-5zM651 523h4v1h-4zM652 524h3v1h-3zM652 525h2v1h-2zM653 526h1v1h-1zM659 507h7v1h-7zM660 508h6v1h-6zM661 509h5v1h-5zM661 510h4v1h-4zM662 511h3v1h-3zM662 512h2v1h-2zM663 513h1v1h-1zM669 523h7v1h-7zM670 524h6v1h-6zM671 525h5v1h-5zM671 526h4v1h-4zM672 527h3v1h-3zM672 528h2v1h-2zM673 529h1v1h-1zM679 498h7v1h-7zM680 499h6v1h-6zM681 500h5v1h-5zM681 501h4v1h-4zM682 502h3v1h-3zM682 503h2v1h-2zM683 504h1v1h-1zM690 503h7v1h-7zM691 504h6v1h-6zM692 505h5v1h-5zM692 506h4v1h-4zM693 507h3v1h-3zM693 508h2v1h-2zM694 509h1v1h-1zM700 499h7v1h-7zM701 500h6v1h-6zM702 501h5v1h-5zM702 502h4v1h-4zM703 503h3v1h-3zM703 504h2v1h-2zM704 505h1v1h-1zM710 492h7v1h-7zM711 493h6v1h-6zM712 494h5v1h-5zM712 495h4v1h-4zM713 496h3v1h-3zM713 497h2v1h-2zM714 498h1v1h-1zM720 477h7v1h-7zM721 478h6v1h-6zM722 479h5v1h-5zM722 480h4v1h-4zM723 481h3v1h-3zM723 482h2v1h-2zM724 483h1v1h-1zM730 476h7v1h-7zM731 477h6v1h-6zM732 478h5v1h-5zM732 479h4v1h-4zM733 480h3v1h-3zM733 481h2v1h-2zM734 482h1v1h-1zM741 475h7v1h-7zM742 476h6v1h-6zM743 477h5v1h-5zM743 478h4v1h-4zM744 479h3v1h-3zM744 480h2v1h-2zM745 481h1v1h-1zM751 474h7v1h-7zM752 475h6v1h-6zM753 476h5v1h-5zM753 477h4v1h-4zM754 478h3v1h-3zM754 479h2v1h-2zM755 480h1v1h-1zM761 455h7v1h-7zM762 456h6v1h-6zM763 457h5v1h-5zM763 458h4v1h-4zM764 459h3v1h-3zM764 460h2v1h-2zM765 461h1v1h-1zM771 461h7v1h-7zM772 462h6v1h-6zM773 463h5v1h-5zM773 464h4v1h-4zM774 465h3v1h-3zM774 466h2v1h-2zM775 467h1v1h-1zM782 455h7v1h-7zM783 456h6v1h-6zM784 457h5v1h-5zM784 458h4v1h-4zM785 459h3v1h-3zM785 460h2v1h-2zM786 461h1v1h-1zM792 444h7v1h-7zM793 445h6v1h-6zM794 446h5v1h-5zM794 447h4v1h-4zM795 448h3v1h-3zM795 449h2v1h-2zM796 450h1v1h-1zM802 444h7v1h-7zM803 445h6v1h-6zM804 446h5v1h-5zM804 447h4v1h-4zM805 448h3v1h-3zM805 449h2v1h-2zM806 450h1v1h-1zM812 442h7v1h-7zM813 443h6v1h-6zM814 444h5v1h-5zM814 445h4v1h-4zM815 446h3v1h-3zM815 447h2v1h-2zM816 448h1v1h-1zM822 447h7v1h-7zM823 448h6v1h-6zM824 449h5v1h-5zM824 450h4v1h-4zM825 451h3v1h-3zM825 452h2v1h-2zM826 453h1v1h-1zM833 438h7v1h-7zM834 439h6v1h-6zM835 440h5v1h-5zM835 441h4v1h-4zM836 442h3v1h-3zM836 443h2v1h-2zM837 444h1v1h-1zM843 428h7v1h-7zM844 429h6v1h-6zM845 430h5v1h-5zM845 431h4v1h-4zM846 432h3v1h-3zM846 433h2v1h-2zM847 434h1v1h-1zM853 420h7v1h-7zM854 421h6v1h-6zM855 422h5v1h-5zM855 423h4v1h-4zM856 424h3v1h-3zM856 425h2v1h-2zM857 426h1v1h-1zM863 425h7v1h-7zM864 426h6v1h-6zM865 427h5v1h-5zM865 428h4v1h-4zM866 429h3v1h-3zM866 430h2v1h-2zM867 431h1v1h-1zM873 419h7v1h-7zM874 420h6v1h-6zM875 421h5v1h-5zM875 422h4v1h-4zM876 423h3v1h-3zM876 424h2v1h-2zM877 425h1v1h-1zM884 413h7v1h-7zM885 414h6v1h-6zM886 415h5v1h-5zM886 416h4v1h-4zM887 417h3v1h-3zM887 418h2v1h-2zM888 419h1v1h-1zM894 409h7v1h-7zM895 410h6v1h-6zM896 411h5v1h-5zM896 412h4v1h-4zM897 413h3v1h-3zM897 414h2v1h-2zM898 415h1v1h-1zM904 401h7v1h-7zM905 402h6v1h-6zM906 403h5v1h-5zM906 404h4v1h-4zM907 405h3v1h-3zM907 406h2v1h-2zM908 407h1v1h-1zM914 398h7v1h-7zM915 399h6v1h-6zM916 400h5v1h-5zM916 401h4v1h-4zM917 402h3v1h-3zM917 403h2v1h-2zM918 404h1v1h-1zM924 391h7v1h-7zM925 392h6v1h-6zM926 393h5v1h-5zM926 394h4v1h-4zM927 395h3v1h-3zM927 396h2v1h-2zM928 397h1v1h-1zM935 394h7v1h-7zM936 395h6v1h-6zM937 396h5v1h-5zM937 397h4v1h-4zM938 398h3v1h-3zM938 399h2v1h-2zM939 400h1v1h-1zM945 381h7v1h-7zM946 382h6v1h-6zM947 383h5v1h-5zM947 384h4v1h-4zM948 385h3v1h-3zM948 386h2v1h-2zM949 387h1v1h-1zM955 373h7v1h-7zM956 374h6v1h-6zM957 375h5v1h-5zM957 376h4v1h-4zM958 377h3v1h-3zM958 378h2v1h-2zM959 379h1v1h-1zM965 372h7v1h-7zM966 373h6v1h-6zM967 374h5v1h-5zM967 375h4v1h-4zM968 376h3v1h-3zM968 377h2v1h-2zM969 378h1v1h-1zM975 362h7v1h-7zM976 363h6v1h-6zM977 364h5v1h-5zM977 365h4v1h-4zM978 366h3v1h-3zM978 367h2v1h-2zM979 368h1v1h-1zM986 354h7v1h-7zM987 355h6v1h-6zM988 356h5v1h-5zM988 357h4v1h-4zM989 358h3v1h-3zM989 359h2v1h-2zM990 360h1v1h-1zM996 350h7v1h-7zM997 351h6v1h-6zM998 352h5v1h-5zM998 353h4v1h-4zM999 354h3v1h-3zM999 355h2v1h-2zM1000 356h1v1h-1zM1006 336h7v1h-7zM1007 337h6v1h-6zM1008 338h5v1h-5zM1008 339h4v1h-4zM1009 340h3v1h-3zM1009 341h2v1h-2zM1010 342h1v1h-1zM1016 331h7v1h-7zM1017 332h6v1h-6zM1018 333h5v1h-5zM1018 334h4v1h-4zM1019 335h3v1h-3zM1019 336h2v1h-2zM1020 337h1v1h-1zM1027 323h7v1h-7zM1028 324h6v1h-6zM1029 325h5v1h-5zM1029 326h4v1h-4zM1030 327h3v1h-3zM1030 328h2v1h-2zM1031 329h1v1h-1zM1037 312h7v1h-7zM1038 313h6v1h-6zM1039 314h5v1h-5zM1039 315h4v1h-4zM1040 316h3v1h-3zM1040 317h2v1h-2zM1041 318h1v1h-1zM1047 300h7v1h-7zM1048 301h6v1h-6zM1049 302h5v1h-5zM1049 303h4v1h-4zM1050 304h3v1h-3zM1050 305h2v1h-2zM1051 306h1v1h-1zM1057 287h7v1h-7zM1058 288h6v1h-6zM1059 289h5v1h-5zM1059 290h4v1h-4zM1060 291h3v1h-3zM1060 292h2v1h-2zM1061 293h1v1h-1zM1067 279h7v1h-7zM1068 280h6v1h-6zM1069 281h5v1h-5zM1069 282h4v1h-4zM1070 283h3v1h-3zM1070 284h2v1h-2zM1071 285h1v1h-1zM1078 260h7v1h-7zM1079 261h6v1h-6zM1080 262h5v1h-5zM1080 263h4v1h-4zM1081 264h3v1h-3zM1081 265h2v1h-2zM1082 266h1v1h-1zM1088 245h7v1h-7zM1089 246h6v1h-6zM1090 247h5v1h-5zM1090 248h4v1h-4zM1091 249h3v1h-3zM1091 250h2v1h-2zM1092 251h1v1h-1zM1098 227h7v1h-7zM1099 228h6v1h-6zM1100 229h5v1h-5zM1100 230h4v1h-4zM1101 231h3v1h-3zM1101 232h2v1h-2zM1102 233h1v1h-1zM1108 205h7v1h-7zM1109 206h6v1h-6zM1110 207h5v1h-5zM1110 208h4v1h-4zM1111 209h3v1h-3zM1111 210h2v1h-2zM1112 211h1v1h-1zM1118 184h7v1h-7zM1119 185h6v1h-6zM1120 186h5v1h-5zM1120 187h4v1h-4zM1121 188h3v1h-3zM1121 189h2v1h-2zM1122 190h1v1h-1zM1129 167h7v1h-7zM1130 168h6v1h-6zM1131 169h5v1h-5zM1131 170h4v1h-4zM1132 171h3v1h-3zM1132 172h2v1h-2zM1133 173h1v1h-1zM1139 199h7v1h-7zM1140 200h6v1h-6zM1141 201h5v1h-5zM1141 202h4v1h-4zM1142 203h3v1h-3zM1142 204h2v1h-2zM1143 205h1v1h-1z"/></g>
<g fill="#000000"><path shape-rendering="crispEdges" d="M331 894h3v1h-3zM339 894h3v1h-3zM336 878h1v14h-1zM352 874h3v1h-3zM360 874h3v1h-3zM357 859h1v13h-1zM357 877h1v16h-1zM362 850h3v1h-3zM370 850h3v1h-3zM367 837h1v11h-1zM367 853h1v13h-1zM372 865h3v1h-3zM380 865h3v1h-3zM377 851h1v12h-1zM377 868h1v15h-1zM382 848h3v1h-3zM390 848h3v1h-3zM387 835h1v11h-1zM387 851h1v13h-1zM393 820h3v1h-3zM401 820h3v1h-3zM398 809h1v9h-1zM398 823h1v11h-1zM403 808h3v1h-3zM411 808h3v1h-3zM408 798h1v8h-1zM408 811h1v10h-1zM413 765h3v1h-3zM421 765h3v1h-3zM418 757h1v6h-1zM418 768h1v7h-1zM423 779h3v1h-3zM431 779h3v1h-3zM428 770h1v7h-1zM428 782h1v7h-1zM433 754h3v1h-3zM441 754h3v1h-3zM438 747h1v5h-1zM438 757h1v6h-1zM444 745h3v1h-3zM452 745h3v1h-3zM449 738h1v5h-1zM449 748h1v6h-1zM454 745h3v1h-3zM462 745h3v1h-3zM459 738h1v5h-1zM459 748h1v6h-1zM464 726h3v1h-3zM472 726h3v1h-3zM469 720h1v4h-1zM469 729h1v5h-1zM474 697h3v1h-3zM482 697h3v1h-3zM479 691h1v4h-1zM479 700h1v4h-1zM484 687h3v1h-3zM492 687h3v1h-3zM489 681h1v4h-1zM489 690h1v3h-1zM495 692h3v1h-3zM503 692h3v1h-3zM500 686h1v4h-1zM500 695h1v3h-1zM505 667h3v1h-3zM513 667h3v1h-3zM510 662h1v3h-1zM510 670h1v3h-1zM515 656h3v1h-3zM523 656h3v1h-3zM520 652h1v2h-1zM520 659h1v3h-1zM525 652h3v1h-3zM533 652h3v1h-3zM530 647h1v3h-1zM530 655h1v2h-1zM536 645h3v1h-3zM544 645h3v1h-3zM541 641h1v2h-1zM541 648h1v2h-1zM546 625h3v1h-3zM554 625h3v1h-3zM551 621h1v2h-1zM551 628h1v2h-1zM556 630h3v1h-3zM564 630h3v1h-3zM561 626h1v2h-1zM561 633h1v2h-1zM566 617h3v1h-3zM574 617h3v1h-3zM571 613h1v2h-1zM571 620h1v1h-1zM576 600h3v1h-3zM584 600h3v1h-3zM581 597h1v1h-1zM581 603h1v1h-1zM587 593h3v1h-3zM595 593h3v1h-3zM592 590h1v1h-1zM592 596h1v1h-1zM597 582h3v1h-3zM605 582h3v1h-3zM602 579h1v1h-1zM602 585h1v1h-1zM607 574h3v1h-3zM615 574h3v1h-3zM612 571h1v1h-1zM612 577h1v1h-1zM617 568h3v1h-3zM625 568h3v1h-3zM622 565h1v1h-1zM627 560h3v1h-3zM635 560h3v1h-3zM632 563h1v1h-1zM638 549h3v1h-3zM646 549h3v1h-3zM643 546h1v1h-1zM648 543h3v1h-3zM656 543h3v1h-3zM653 540h1v1h-1zM658 534h3v1h-3zM666 534h3v1h-3zM668 529h3v1h-3zM676 529h3v1h-3zM678 522h3v1h-3zM686 522h3v1h-3zM689 515h3v1h-3zM697 515h3v1h-3zM699 505h3v1h-3zM707 505h3v1h-3zM709 500h3v1h-3zM717 500h3v1h-3zM719 495h3v1h-3zM727 495h3v1h-3zM729 488h3v1h-3zM737 488h3v1h-3zM740 485h3v1h-3zM748 485h3v1h-3zM750 481h3v1h-3zM758 481h3v1h-3zM760 474h3v1h-3zM768 474h3v1h-3zM770 469h3v1h-3zM778 469h3v1h-3zM781 463h3v1h-3zM789 463h3v1h-3zM791 460h3v1h-3zM799 460h3v1h-3zM801 454h3v1h-3zM809 454h3v1h-3zM811 451h3v1h-3zM819 451h3v1h-3zM821 444h3v1h-3zM829 444h3v1h-3zM832 439h3v1h-3zM840 439h3v1h-3zM842 433h3v1h-3zM850 433h3v1h-3zM852 431h3v1h-3zM860 431h3v1h-3zM862 424h3v1h-3zM870 424h3v1h-3zM872 421h3v1h-3zM880 421h3v1h-3zM883 416h3v1h-3zM891 416h3v1h-3zM893 411h3v1h-3zM901 411h3v1h-3zM903 402h3v1h-3zM911 402h3v1h-3zM913 401h3v1h-3zM921 401h3v1h-3zM923 393h3v1h-3zM931 393h3v1h-3zM934 387h3v1h-3zM942 387h3v1h-3zM944 383h3v1h-3zM952 383h3v1h-3zM954 373h3v1h-3zM962 373h3v1h-3zM964 366h3v1h-3zM972 366h3v1h-3zM974 362h3v1h-3zM982 362h3v1h-3zM985 353h3v1h-3zM993 353h3v1h-3zM995 344h3v1h-3zM1003 344h3v1h-3zM1005 337h3v1h-3zM1013 337h3v1h-3zM1015 327h3v1h-3zM1023 327h3v1h-3zM1026 320h3v1h-3zM1034 320h3v1h-3zM1036 310h3v1h-3zM1044 310h3v1h-3zM1046 300h3v1h-3zM1054 300h3v1h-3zM1056 288h3v1h-3zM1064 288h3v1h-3zM1066 275h3v1h-3zM1074 275h3v1h-3zM1077 261h3v1h-3zM1085 261h3v1h-3zM1087 247h3v1h-3zM1095 247h3v1h-3zM1097 230h3v1h-3zM1105 230h3v1h-3zM1107 210h3v1h-3zM1115 210h3v1h-3zM1117 189h3v1h-3zM1125 189h3v1h-3zM1128 179h3v1h-3zM1136 179h3v1h-3zM1138 204h3v1h-3zM1146 204h3v1h-3zM336 891h1v1h-1zM335 892h2v5h-2zM334 893h4v3h-4zM333 894h1v1h-1zM357 871h1v1h-1zM356 872h2v5h-2zM355 873h4v3h-4zM354 874h1v1h-1zM367 847h1v1h-1zM366 848h2v5h-2zM365 849h4v3h-4zM364 850h1v1h-1zM377 862h1v1h-1zM376 863h2v5h-2zM375 864h4v3h-4zM374 865h1v1h-1zM387 845h1v1h-1zM386 846h2v5h-2zM385 847h4v3h-4zM384 848h1v1h-1zM398 817h1v1h-1zM397 818h2v5h-2zM396 819h4v3h-4zM395 820h1v1h-1zM408 805h1v1h-1zM407 806h2v5h-2zM406 807h4v3h-4zM405 808h1v1h-1zM418 762h1v1h-1zM417 763h2v5h-2zM416 764h4v3h-4zM415 765h1v1h-1zM428 776h1v1h-1zM427 777h2v5h-2zM426 778h4v3h-4zM425 779h1v1h-1zM438 751h1v1h-1zM437 752h2v5h-2zM436 753h4v3h-4zM435 754h1v1h-1zM449 742h1v1h-1zM448 743h2v5h-2zM447 744h4v3h-4zM446 745h1v1h-1zM459 742h1v1h-1zM458 743h2v5h-2zM457 744h4v3h-4zM456 745h1v1h-1zM469 723h1v1h-1zM468 724h2v5h-2zM467 725h4v3h-4zM466 726h1v1h-1zM479 694h1v1h-1zM478 695h2v5h-2zM477 696h4v3h-4zM476 697h1v1h-1zM489 684h1v1h-1zM488 685h2v5h-2zM487 686h4v3h-4zM486 687h1v1h-1zM500 689h1v1h-1zM499 690h2v5h-2zM498 691h4v3h-4zM497 692h1v1h-1zM510 664h1v1h-1zM509 665h2v5h-2zM508 666h4v3h-4zM507 667h1v1h-1zM520 653h1v1h-1zM519 654h2v5h-2zM518 655h4v3h-4zM517 656h1v1h-1zM530 649h1v1h-1zM529 650h2v5h-2zM528 651h4v3h-4zM527 652h1v1h-1zM541 642h1v1h-1zM540 643h2v5h-2zM539 644h4v3h-4zM538 645h1v1h-1zM551 622h1v1h-1zM550 623h2v5h-2zM549 624h4v3h-4zM548 625h1v1h-1zM561 627h1v1h-1zM560 628h2v5h-2zM559 629h4v3h-4zM558 630h1v1h-1zM571 614h1v1h-1zM570 615h2v5h-2zM569 616h4v3h-4zM568 617h1v1h-1zM581 597h1v1h-1zM580 598h2v5h-2zM579 599h4v3h-4zM578 600h1v1h-1zM592 590h1v1h-1zM591 591h2v5h-2zM590 592h4v3h-4zM589 593h1v1h-1zM602 579h1v1h-1zM601 580h2v5h-2zM600 581h4v3h-4zM599 582h1v1h-1zM612 571h1v1h-1zM611 572h2v5h-2zM610 573h4v3h-4zM609 574h1v1h-1zM622 565h1v1h-1zM621 566h2v5h-2zM620 567h4v3h-4zM619 568h1v1h-1zM632 557h1v1h-1zM631 558h2v5h-2zM630 559h4v3h-4zM629 560h1v1h-1zM643 546h1v1h-1zM642 547h2v5h-2zM641 548h4v3h-4zM640 549h1v1h-1zM653 540h1v1h-1zM652 541h2v5h-2zM651 542h4v3h-4zM650 543h1v1h-1zM663 531h1v1h-1zM662 532h2v5h-2zM661 533h4v3h-4zM660 534h1v1h-1zM673 526h1v1h-1zM672 527h2v5h-2zM671 528h4v3h-4zM670 529h1v1h-1zM683 519h1v1h-1zM682 520h2v5h-2zM681 521h4v3h-4zM680 522h1v1h-1zM694 512h1v1h-1zM693 513h2v5h-2zM692 514h4v3h-4zM691 515h1v1h-1zM704 502h1v1h-1zM703 503h2v5h-2zM702 504h4v3h-4zM701 505h1v1h-1zM714 497h1v1h-1zM713 498h2v5h-2zM712 499h4v3h-4zM711 500h1v1h-1zM724 492h1v1h-1zM723 493h2v5h-2zM722 494h4v3h-4zM721 495h1v1h-1zM734 485h1v1h-1zM733 486h2v5h-2zM732 487h4v3h-4zM731 488h1v1h-1zM745 482h1v1h-1zM744 483h2v5h-2zM743 484h4v3h-4zM742 485h1v1h-1zM755 478h1v1h-1zM754 479h2v5h-2zM753 480h4v3h-4zM752 481h1v1h-1zM765 471h1v1h-1zM764 472h2v5h-2zM763 473h4v3h-4zM762 474h1v1h-1zM775 466h1v1h-1zM774 467h2v5h-2zM773 468h4v3h-4zM772 469h1v1h-1zM786 460h1v1h-1zM785 461h2v5h-2zM784 462h4v3h-4zM783 463h1v1h-1zM796 457h1v1h-1zM795 458h2v5h-2zM794 459h4v3h-4zM793 460h1v1h-1zM806 451h1v1h-1zM805 452h2v5h-2zM804 453h4v3h-4zM803 454h1v1h-1zM816 448h1v1h-1zM815 449h2v5h-2zM814 450h4v3h-4zM813 451h1v1h-1zM826 441h1v1h-1zM825 442h2v5h-2zM824 443h4v3h-4zM823 444h1v1h-1zM837 436h1v1h-1zM836 437h2v5h-2zM835 438h4v3h-4zM834 439h1v1h-1zM847 430h1v1h-1zM846 431h2v5h-2zM845 432h4v3h-4zM844 433h1v1h-1zM857 428h1v1h-1zM856 429h2v5h-2zM855 430h4v3h-4zM854 431h1v1h-1zM867 421h1v1h-1zM866 422h2v5h-2zM865 423h4v3h-4zM864 424h1v1h-1zM877 418h1v1h-1zM876 419h2v5h-2zM875 420h4v3h-4zM874 421h1v1h-1zM888 413h1v1h-1zM887 414h2v5h-2zM886 415h4v3h-4zM885 416h1v1h-1zM898 408h1v1h-1zM897 409h2v5h-2zM896 410h4v3h-4zM895 411h1v1h-1zM908 399h1v1h-1zM907 400h2v5h-2zM906 401h4v3h-4zM905 402h1v1h-1zM918 398h1v1h-1zM917 399h2v5h-2zM916 400h4v3h-4zM915 401h1v1h-1zM928 390h1v1h-1zM927 391h2v5h-2zM926 392h4v3h-4zM925 393h1v1h-1zM939 384h1v1h-1zM938 385h2v5h-2zM937 386h4v3h-4zM936 387h1v1h-1zM949 380h1v1h-1zM948 381h2v5h-2zM947 382h4v3h-4zM946 383h1v1h-1zM959 370h1v1h-1zM958 371h2v5h-2zM957 372h4v3h-4zM956 373h1v1h-1zM969 363h1v1h-1zM968 364h2v5h-2zM967 365h4v3h-4zM966 366h1v1h-1zM979 359h1v1h-1zM978 360h2v5h-2zM977 361h4v3h-4zM976 362h1v1h-1zM990 350h1v1h-1zM989 351h2v5h-2zM988 352h4v3h-4zM987 353h1v1h-1zM1000 341h1v1h-1zM999 342h2v5h-2zM998 343h4v3h-4zM997 344h1v1h-1zM1010 334h1v1h-1zM1009 335h2v5h-2zM1008 336h4v3h-4zM1007 337h1v1h-1zM1020 324h1v1h-1zM1019 325h2v5h-2zM1018 326h4v3h-4zM1017 327h1v1h-1zM1031 317h1v1h-1zM1030 318h2v5h-2zM1029 319h4v3h-4zM1028 320h1v1h-1zM1041 307h1v1h-1zM1040 308h2v5h-2zM1039 309h4v3h-4zM1038 310h1v1h-1zM1051 297h1v1h-1zM1050 298h2v5h-2zM1049 299h4v3h-4zM1048 300h1v1h-1zM1061 285h1v1h-1zM1060 286h2v5h-2zM1059 287h4v3h-4zM1058 288h1v1h-1zM1071 272h1v1h-1zM1070 273h2v5h-2zM1069 274h4v3h-4zM1068 275h1v1h-1zM1082 258h1v1h-1zM1081 259h2v5h-2zM1080 260h4v3h-4zM1079 261h1v1h-1zM1092 244h1v1h-1zM1091 245h2v5h-2zM1090 246h4v3h-4zM1089 247h1v1h-1zM1102 227h1v1h-1zM1101 228h2v5h-2zM1100 229h4v3h-4zM1099 230h1v1h-1zM1112 207h1v1h-1zM1111 208h2v5h-2zM1110 209h4v3h-4zM1109 210h1v1h-1zM1122 186h1v1h-1zM1121 187h2v5h-2zM1120 188h4v3h-4zM1119 189h1v1h-1zM1133 176h1v1h-1zM1132 177h2v5h-2zM1131 178h4v3h-4zM1130 179h1v1h-1zM1143 201h1v1h-1zM1142 202h2v5h-2zM1141 203h4v3h-4zM1140 204h1v1h-1z"/></g>
<g fill="#990099"><path shape-rendering="crispEdges" d="M260 759h3v1h-3zM268 759h3v1h-3zM265 700h1v57h-1zM265 762h1v134h-1zM301 759h3v1h-3zM309 759h3v1h-3zM306 700h1v57h-1zM306 762h1v134h-1zM321 759h3v1h-3zM329 759h3v1h-3zM326 700h1v57h-1zM326 762h1v134h-1zM331 759h3v1h-3zM339 759h3v1h-3zM336 700h1v57h-1zM336 762h1v134h-1zM342 700h3v1h-3zM350 700h3v1h-3zM347 655h1v43h-1zM347 703h1v102h-1zM362 666h3v1h-3zM370 666h3v1h-3zM367 628h1v36h-1zM367 669h1v71h-1zM372 642h3v1h-3zM380 642h3v1h-3zM377 608h1v32h-1zM377 645h1v56h-1zM382 759h3v1h-3zM390 759h3v1h-3zM387 700h1v57h-1zM387 762h1v134h-1zM393 623h3v1h-3zM401 623h3v1h-3zM398 592h1v29h-1zM398 626h1v48h-1zM403 666h3v1h-3zM411 666h3v1h-3zM408 628h1v36h-1zM408 669h1v71h-1zM413 666h3v1h-3zM421 666h3v1h-3zM418 628h1v36h-1zM418 669h1v71h-1zM423 573h3v1h-3zM431 573h3v1h-3zM428 549h1v22h-1zM428 576h1v33h-1zM433 595h3v1h-3zM441 595h3v1h-3zM438 568h1v25h-1zM438 598h1v38h-1zM444 595h3v1h-3zM452 595h3v1h-3zM449 568h1v25h-1zM449 598h1v38h-1zM454 565h3v1h-3zM462 565h3v1h-3zM459 541h1v22h-1zM459 568h1v30h-1zM464 565h3v1h-3zM472 565h3v1h-3zM469 541h1v22h-1zM469 568h1v30h-1zM474 557h3v1h-3zM482 557h3v1h-3zM479 534h1v21h-1zM479 560h1v28h-1zM484 583h3v1h-3zM492 583h3v1h-3zM489 558h1v23h-1zM489 586h1v35h-1zM495 557h3v1h-3zM503 557h3v1h-3zM500 534h1v21h-1zM500 560h1v28h-1zM505 525h3v1h-3zM513 525h3v1h-3zM510 506h1v17h-1zM510 528h1v22h-1zM515 510h3v1h-3zM523 510h3v1h-3zM520 493h1v15h-1zM520 513h1v20h-1zM525 525h3v1h-3zM533 525h3v1h-3zM530 506h1v17h-1zM530 528h1v22h-1zM536 515h3v1h-3zM544 515h3v1h-3zM541 497h1v16h-1zM541 518h1v21h-1zM546 525h3v1h-3zM554 525h3v1h-3zM551 506h1v17h-1zM551 528h1v22h-1zM556 510h3v1h-3zM564 510h3v1h-3zM561 493h1v15h-1zM561 513h1v20h-1zM566 472h3v1h-3zM574 472h3v1h-3zM571 458h1v12h-1zM571 475h1v15h-1zM576 487h3v1h-3zM584 487h3v1h-3zM581 471h1v14h-1zM581 490h1v16h-1zM587 452h3v1h-3zM595 452h3v1h-3zM592 439h1v11h-1zM592 455h1v13h-1zM597 466h3v1h-3zM605 466h3v1h-3zM602 452h1v12h-1zM602 469h1v14h-1zM607 466h3v1h-3zM615 466h3v1h-3zM612 452h1v12h-1zM612 469h1v14h-1zM617 450h3v1h-3zM625 450h3v1h-3zM622 437h1v11h-1zM622 453h1v13h-1zM627 416h3v1h-3zM635 416h3v1h-3zM632 406h1v8h-1zM632 419h1v10h-1zM638 425h3v1h-3zM646 425h3v1h-3zM643 414h1v9h-1zM643 428h1v10h-1zM648 475h3v1h-3zM656 475h3v1h-3zM653 460h1v13h-1zM653 478h1v15h-1zM658 440h3v1h-3zM666 440h3v1h-3zM663 428h1v10h-1zM663 443h1v12h-1zM668 418h3v1h-3zM676 418h3v1h-3zM673 407h1v9h-1zM673 421h1v10h-1zM678 421h3v1h-3zM686 421h3v1h-3zM683 410h1v9h-1zM683 424h1v10h-1zM689 413h3v1h-3zM697 413h3v1h-3zM694 402h1v9h-1zM694 416h1v9h-1zM699 412h3v1h-3zM707 412h3v1h-3zM704 402h1v8h-1zM704 415h1v10h-1zM709 424h3v1h-3zM717 424h3v1h-3zM714 413h1v9h-1zM714 427h1v10h-1zM719 422h3v1h-3zM727 422h3v1h-3zM724 411h1v9h-1zM724 425h1v11h-1zM729 403h3v1h-3zM737 403h3v1h-3zM734 393h1v8h-1zM734 406h1v9h-1zM740 424h3v1h-3zM748 424h3v1h-3zM745 413h1v9h-1zM745 427h1v10h-1zM750 398h3v1h-3zM758 398h3v1h-3zM755 389h1v7h-1zM755 401h1v8h-1zM760 387h3v1h-3zM768 387h3v1h-3zM765 378h1v7h-1zM765 390h1v8h-1zM770 395h3v1h-3zM778 395h3v1h-3zM775 385h1v8h-1zM775 398h1v8h-1zM781 412h3v1h-3zM789 412h3v1h-3zM786 402h1v8h-1zM786 415h1v10h-1zM791 386h3v1h-3zM799 386h3v1h-3zM796 377h1v7h-1zM796 389h1v8h-1zM801 399h3v1h-3zM809 399h3v1h-3zM806 390h1v7h-1zM806 402h1v9h-1zM811 369h3v1h-3zM819 369h3v1h-3zM816 361h1v6h-1zM816 372h1v7h-1zM821 373h3v1h-3zM829 373h3v1h-3zM826 365h1v6h-1zM826 376h1v7h-1zM832 387h3v1h-3zM840 387h3v1h-3zM837 378h1v7h-1zM837 390h1v8h-1zM842 376h3v1h-3zM850 376h3v1h-3zM847 368h1v6h-1zM847 379h1v7h-1zM852 389h3v1h-3zM860 389h3v1h-3zM857 380h1v7h-1zM857 392h1v8h-1zM862 389h3v1h-3zM870 389h3v1h-3zM867 380h1v7h-1zM867 392h1v8h-1zM872 370h3v1h-3zM880 370h3v1h-3zM877 362h1v6h-1zM877 373h1v7h-1zM883 378h3v1h-3zM891 378h3v1h-3zM888 370h1v6h-1zM888 381h1v7h-1zM893 369h3v1h-3zM901 369h3v1h-3zM898 361h1v6h-1zM898 372h1v7h-1zM903 397h3v1h-3zM911 397h3v1h-3zM908 387h1v8h-1zM908 400h1v8h-1zM913 376h3v1h-3zM921 376h3v1h-3zM918 368h1v6h-1zM918 379h1v8h-1zM923 376h3v1h-3zM931 376h3v1h-3zM928 368h1v6h-1zM928 379h1v8h-1zM934 369h3v1h-3zM942 369h3v1h-3zM939 361h1v6h-1zM939 372h1v7h-1zM944 367h3v1h-3zM952 367h3v1h-3zM949 359h1v6h-1zM949 370h1v6h-1zM954 365h3v1h-3zM962 365h3v1h-3zM959 357h1v6h-1zM959 368h1v6h-1zM964 361h3v1h-3zM972 361h3v1h-3zM969 353h1v6h-1zM969 364h1v6h-1zM974 346h3v1h-3zM982 346h3v1h-3zM979 339h1v5h-1zM979 349h1v5h-1zM985 359h3v1h-3zM993 359h3v1h-3zM990 351h1v6h-1zM990 362h1v6h-1zM995 352h3v1h-3zM1003 352h3v1h-3zM1000 344h1v6h-1zM1000 355h1v5h-1zM1005 346h3v1h-3zM1013 346h3v1h-3zM1010 339h1v5h-1zM1010 349h1v6h-1zM1015 336h3v1h-3zM1023 336h3v1h-3zM1020 329h1v5h-1zM1020 339h1v5h-1zM1026 333h3v1h-3zM1034 333h3v1h-3zM1031 326h1v5h-1zM1031 336h1v5h-1zM1036 317h3v1h-3zM1044 317h3v1h-3zM1041 311h1v4h-1zM1041 320h1v5h-1zM1046 308h3v1h-3zM1054 308h3v1h-3zM1051 302h1v4h-1zM1051 311h1v4h-1zM1056 320h3v1h-3zM1064 320h3v1h-3zM1061 313h1v5h-1zM1061 323h1v4h-1zM1066 297h3v1h-3zM1074 297h3v1h-3zM1071 292h1v3h-1zM1071 300h1v4h-1zM1077 297h3v1h-3zM1085 297h3v1h-3zM1082 292h1v3h-1zM1082 300h1v4h-1zM1087 267h3v1h-3zM1095 267h3v1h-3zM1092 262h1v3h-1zM1092 270h1v2h-1zM1097 254h3v1h-3zM1105 254h3v1h-3zM1102 250h1v2h-1zM1102 257h1v2h-1zM1107 243h3v1h-3zM1115 243h3v1h-3zM1112 239h1v2h-1zM1112 246h1v2h-1zM1117 219h3v1h-3zM1125 219h3v1h-3zM1122 215h1v2h-1zM1122 222h1v1h-1zM1128 208h3v1h-3zM1136 208h3v1h-3zM1133 205h1v1h-1zM1133 211h1v1h-1zM1138 222h3v1h-3zM1146 222h3v1h-3zM1143 218h1v2h-1zM1143 225h1v1h-1zM261 755h6v6h-6zM302 755h6v6h-6zM322 755h6v6h-6zM332 755h6v6h-6zM343 696h6v6h-6zM363 662h6v6h-6zM373 638h6v6h-6zM383 755h6v6h-6zM394 619h6v6h-6zM404 662h6v6h-6zM414 662h6v6h-6zM424 569h6v6h-6zM434 591h6v6h-6zM445 591h6v6h-6zM455 561h6v6h-6zM465 561h6v6h-6zM475 553h6v6h-6zM485 579h6v6h-6zM496 553h6v6h-6zM506 521h6v6h-6zM516 506h6v6h-6zM526 521h6v6h-6zM537 511h6v6h-6zM547 521h6v6h-6zM557 506h6v6h-6zM567 468h6v6h-6zM577 483h6v6h-6zM588 448h6v6h-6zM598 462h6v6h-6zM608 462h6v6h-6zM618 446h6v6h-6zM628 412h6v6h-6zM639 421h6v6h-6zM649 471h6v6h-6zM659 436h6v6h-6zM669 414h6v6h-6zM679 417h6v6h-6zM690 409h6v6h-6zM700 408h6v6h-6zM710 420h6v6h-6zM720 418h6v6h-6zM730 399h6v6h-6zM741 420h6v6h-6zM751 394h6v6h-6zM761 383h6v6h-6zM771 391h6v6h-6zM782 408h6v6h-6zM792 382h6v6h-6zM802 395h6v6h-6zM812 365h6v6h-6zM822 369h6v6h-6zM833 383h6v6h-6zM843 372h6v6h-6zM853 385h6v6h-6zM863 385h6v6h-6zM873 366h6v6h-6zM884 374h6v6h-6zM894 365h6v6h-6zM904 393h6v6h-6zM914 372h6v6h-6zM924 372h6v6h-6zM935 365h6v6h-6zM945 363h6v6h-6zM955 361h6v6h-6zM965 357h6v6h-6zM975 342h6v6h-6zM986 355h6v6h-6zM996 348h6v6h-6zM1006 342h6v6h-6zM1016 332h6v6h-6zM1027 329h6v6h-6zM1037 313h6v6h-6zM1047 304h6v6h-6zM1057 316h6v6h-6zM1067 293h6v6h-6zM1078 293h6v6h-6zM1088 263h6v6h-6zM1098 250h6v6h-6zM1108 239h6v6h-6zM1118 215h6v6h-6zM1129 204h6v6h-6zM1139 218h6v6h-6z"/></g>
<g fill="#0000ff"><path shape-rendering="crispEdges" d="M199 862h3v1h-3zM207 862h3v1h-3zM204 804h1v56h-1zM204 865h1v31h-1zM219 862h3v1h-3zM227 862h3v1h-3zM224 804h1v56h-1zM224 865h1v31h-1zM229 862h3v1h-3zM237 862h3v1h-3zM234 804h1v56h-1zM234 865h1v31h-1zM239 862h3v1h-3zM247 862h3v1h-3zM244 804h1v56h-1zM244 865h1v31h-1zM250 862h3v1h-3zM258 862h3v1h-3zM255 804h1v56h-1zM255 865h1v31h-1zM260 862h3v1h-3zM268 862h3v1h-3zM265 804h1v56h-1zM265 865h1v31h-1zM270 862h3v1h-3zM278 862h3v1h-3zM275 804h1v56h-1zM275 865h1v31h-1zM280 862h3v1h-3zM288 862h3v1h-3zM285 804h1v56h-1zM285 865h1v31h-1zM291 698h3v1h-3zM299 698h3v1h-3zM296 671h1v25h-1zM296 701h1v38h-1zM301 711h3v1h-3zM309 711h3v1h-3zM306 682h1v27h-1zM306 714h1v43h-1zM311 862h3v1h-3zM319 862h3v1h-3zM316 804h1v56h-1zM316 865h1v31h-1zM321 698h3v1h-3zM329 698h3v1h-3zM326 671h1v25h-1zM326 701h1v38h-1zM331 677h3v1h-3zM339 677h3v1h-3zM336 653h1v22h-1zM336 680h1v32h-1zM342 640h3v1h-3zM350 640h3v1h-3zM347 620h1v18h-1zM347 643h1v24h-1zM352 646h3v1h-3zM360 646h3v1h-3zM357 625h1v19h-1zM357 649h1v25h-1zM362 634h3v1h-3zM370 634h3v1h-3zM367 615h1v17h-1zM367 637h1v23h-1zM372 640h3v1h-3zM380 640h3v1h-3zM377 620h1v18h-1zM377 643h1v24h-1zM382 640h3v1h-3zM390 640h3v1h-3zM387 620h1v18h-1zM387 643h1v24h-1zM393 614h3v1h-3zM401 614h3v1h-3zM398 597h1v15h-1zM398 617h1v20h-1zM403 602h3v1h-3zM411 602h3v1h-3zM408 585h1v15h-1zM408 605h1v18h-1zM413 549h3v1h-3zM421 549h3v1h-3zM418 537h1v10h-1zM418 552h1v12h-1zM423 541h3v1h-3zM431 541h3v1h-3zM428 529h1v10h-1zM428 544h1v12h-1zM433 549h3v1h-3zM441 549h3v1h-3zM438 537h1v10h-1zM438 552h1v12h-1zM444 527h3v1h-3zM452 527h3v1h-3zM449 516h1v9h-1zM449 530h1v10h-1zM454 508h3v1h-3zM462 508h3v1h-3zM459 498h1v8h-1zM459 511h1v9h-1zM464 504h3v1h-3zM472 504h3v1h-3zM469 494h1v8h-1zM469 507h1v9h-1zM474 485h3v1h-3zM482 485h3v1h-3zM479 476h1v7h-1zM479 488h1v7h-1zM484 480h3v1h-3zM492 480h3v1h-3zM489 471h1v7h-1zM489 483h1v7h-1zM495 468h3v1h-3zM503 468h3v1h-3zM500 460h1v6h-1zM500 471h1v7h-1zM505 466h3v1h-3zM513 466h3v1h-3zM510 459h1v5h-1zM510 469h1v7h-1zM515 442h3v1h-3zM523 442h3v1h-3zM520 435h1v5h-1zM520 445h1v5h-1zM525 445h3v1h-3zM533 445h3v1h-3zM530 438h1v5h-1zM530 448h1v5h-1zM536 432h3v1h-3zM544 432h3v1h-3zM541 426h1v4h-1zM541 435h1v5h-1zM546 433h3v1h-3zM554 433h3v1h-3zM551 427h1v4h-1zM551 436h1v5h-1zM556 421h3v1h-3zM564 421h3v1h-3zM561 415h1v4h-1zM561 424h1v5h-1zM566 410h3v1h-3zM574 410h3v1h-3zM571 405h1v3h-1zM571 413h1v4h-1zM576 400h3v1h-3zM584 400h3v1h-3zM581 394h1v4h-1zM581 403h1v3h-1zM587 394h3v1h-3zM595 394h3v1h-3zM592 389h1v3h-1zM592 397h1v3h-1zM597 381h3v1h-3zM605 381h3v1h-3zM602 376h1v3h-1zM602 384h1v3h-1zM607 378h3v1h-3zM615 378h3v1h-3zM612 373h1v3h-1zM612 381h1v3h-1zM617 385h3v1h-3zM625 385h3v1h-3zM622 380h1v3h-1zM622 388h1v3h-1zM627 361h3v1h-3zM635 361h3v1h-3zM632 356h1v3h-1zM632 364h1v2h-1zM638 370h3v1h-3zM646 370h3v1h-3zM643 366h1v2h-1zM643 373h1v3h-1zM648 354h3v1h-3zM656 354h3v1h-3zM653 350h1v2h-1zM653 357h1v2h-1zM658 353h3v1h-3zM666 353h3v1h-3zM663 348h1v3h-1zM663 356h1v2h-1zM668 353h3v1h-3zM676 353h3v1h-3zM673 348h1v3h-1zM673 356h1v2h-1zM678 351h3v1h-3zM686 351h3v1h-3zM683 347h1v2h-1zM683 354h1v2h-1zM689 350h3v1h-3zM697 350h3v1h-3zM694 346h1v2h-1zM694 353h1v2h-1zM699 339h3v1h-3zM707 339h3v1h-3zM704 335h1v2h-1zM704 342h1v1h-1zM709 338h3v1h-3zM717 338h3v1h-3zM714 334h1v2h-1zM714 341h1v1h-1zM719 340h3v1h-3zM727 340h3v1h-3zM724 336h1v2h-1zM724 343h1v2h-1zM729 337h3v1h-3zM737 337h3v1h-3zM734 333h1v2h-1zM734 340h1v2h-1zM740 337h3v1h-3zM748 337h3v1h-3zM745 333h1v2h-1zM745 340h1v2h-1zM750 333h3v1h-3zM758 333h3v1h-3zM755 329h1v2h-1zM755 336h1v1h-1zM760 331h3v1h-3zM768 331h3v1h-3zM765 328h1v1h-1zM765 334h1v2h-1zM770 331h3v1h-3zM778 331h3v1h-3zM775 327h1v2h-1zM775 334h1v1h-1zM781 328h3v1h-3zM789 328h3v1h-3zM786 325h1v1h-1zM786 331h1v2h-1zM791 333h3v1h-3zM799 333h3v1h-3zM796 329h1v2h-1zM796 336h1v1h-1zM801 331h3v1h-3zM809 331h3v1h-3zM806 327h1v2h-1zM806 334h1v1h-1zM811 330h3v1h-3zM819 330h3v1h-3zM816 327h1v1h-1zM816 333h1v2h-1zM821 337h3v1h-3zM829 337h3v1h-3zM826 333h1v2h-1zM826 340h1v2h-1zM832 334h3v1h-3zM840 334h3v1h-3zM837 330h1v2h-1zM837 337h1v1h-1zM842 333h3v1h-3zM850 333h3v1h-3zM847 329h1v2h-1zM847 336h1v1h-1zM852 335h3v1h-3zM860 335h3v1h-3zM857 331h1v2h-1zM857 338h1v1h-1zM862 340h3v1h-3zM870 340h3v1h-3zM867 336h1v2h-1zM867 343h1v2h-1zM872 338h3v1h-3zM880 338h3v1h-3zM877 334h1v2h-1zM877 341h1v1h-1zM883 342h3v1h-3zM891 342h3v1h-3zM888 338h1v2h-1zM888 345h1v2h-1zM893 335h3v1h-3zM901 335h3v1h-3zM898 331h1v2h-1zM898 338h1v1h-1zM903 345h3v1h-3zM911 345h3v1h-3zM908 341h1v2h-1zM908 348h1v2h-1zM913 348h3v1h-3zM921 348h3v1h-3zM918 344h1v2h-1zM918 351h1v2h-1zM923 334h3v1h-3zM931 334h3v1h-3zM928 330h1v2h-1zM928 337h1v1h-1zM934 339h3v1h-3zM942 339h3v1h-3zM939 335h1v2h-1zM939 342h1v2h-1zM944 342h3v1h-3zM952 342h3v1h-3zM949 338h1v2h-1zM949 345h1v2h-1zM954 351h3v1h-3zM962 351h3v1h-3zM959 347h1v2h-1zM959 354h1v2h-1zM964 348h3v1h-3zM972 348h3v1h-3zM969 344h1v2h-1zM969 351h1v2h-1zM974 348h3v1h-3zM982 348h3v1h-3zM979 344h1v2h-1zM979 351h1v2h-1zM985 352h3v1h-3zM993 352h3v1h-3zM990 348h1v2h-1zM990 355h1v2h-1zM995 355h3v1h-3zM1003 355h3v1h-3zM1000 351h1v2h-1zM1000 358h1v2h-1zM1005 356h3v1h-3zM1013 356h3v1h-3zM1010 352h1v2h-1zM1010 359h1v2h-1zM1015 366h3v1h-3zM1023 366h3v1h-3zM1020 362h1v2h-1zM1020 369h1v2h-1zM1026 360h3v1h-3zM1034 360h3v1h-3zM1031 356h1v2h-1zM1031 363h1v2h-1zM1036 358h3v1h-3zM1044 358h3v1h-3zM1041 354h1v2h-1zM1041 361h1v2h-1zM1046 360h3v1h-3zM1054 360h3v1h-3zM1051 356h1v2h-1zM1051 363h1v2h-1zM1056 351h3v1h-3zM1064 351h3v1h-3zM1061 347h1v2h-1zM1061 354h1v2h-1zM1066 356h3v1h-3zM1074 356h3v1h-3zM1071 352h1v2h-1zM1071 359h1v2h-1zM1077 349h3v1h-3zM1085 349h3v1h-3zM1082 345h1v2h-1zM1082 352h1v2h-1zM1087 340h3v1h-3zM1095 340h3v1h-3zM1092 336h1v2h-1zM1092 343h1v2h-1zM1097 338h3v1h-3zM1105 338h3v1h-3zM1102 334h1v2h-1zM1102 341h1v2h-1zM1107 335h3v1h-3zM1115 335h3v1h-3zM1112 331h1v2h-1zM1112 338h1v2h-1zM1117 324h3v1h-3zM1125 324h3v1h-3zM1122 321h1v1h-1zM1122 327h1v2h-1zM1128 336h3v1h-3zM1136 336h3v1h-3zM1133 332h1v2h-1zM1133 339h1v2h-1zM1138 434h3v1h-3zM1146 434h3v1h-3zM1143 427h1v5h-1zM1143 437h1v4h-1z"/><circle cx="204.5" cy="862.5" r="3.45"/><circle cx="224.5" cy="862.5" r="3.45"/><circle cx="234.5" cy="862.5" r="3.45"/><circle cx="244.5" cy="862.5" r="3.45"/><circle cx="255.5" cy="862.5" r="3.45"/><circle cx="265.5" cy="862.5" r="3.45"/><circle cx="275.5" cy="862.5" r="3.45"/><circle cx="285.5" cy="862.5" r="3.45"/><circle cx="296.5" cy="698.5" r="3.45"/><circle cx="306.5" cy="711.5" r="3.45"/><circle cx="316.5" cy="862.5" r="3.45"/><circle cx="326.5" cy="698.5" r="3.45"/><circle cx="336.5" cy="677.5" r="3.45"/><circle cx="347.5" cy="640.5" r="3.45"/><circle cx="357.5" cy="646.5" r="3.45"/><circle cx="367.5" cy="634.5" r="3.45"/><circle cx="377.5" cy="640.5" r="3.45"/><circle cx="387.5" cy="640.5" r="3.45"/><circle cx="398.5" cy="614.5" r="3.45"/><circle cx="408.5" cy="602.5" r="3.45"/><circle cx="418.5" cy="549.5" r="3.45"/><circle cx="428.5" cy="541.5" r="3.45"/><circle cx="438.5" cy="549.5" r="3.45"/><circle cx="449.5" cy="527.5" r="3.45"/><circle cx="459.5" cy="508.5" r="3.45"/><circle cx="469.5" cy="504.5" r="3.45"/><circle cx="479.5" cy="485.5" r="3.45"/><circle cx="489.5" cy="480.5" r="3.45"/><circle cx="500.5" cy="468.5" r="3.45"/><circle cx="510.5" cy="466.5" r="3.45"/><circle cx="520.5" cy="442.5" r="3.45"/><circle cx="530.5" cy="445.5" r="3.45"/><circle cx="541.5" cy="432.5" r="3.45"/><circle cx="551.5" cy="433.5" r="3.45"/><circle cx="561.5" cy="421.5" r="3.45"/><circle cx="571.5" cy="410.5" r="3.45"/><circle cx="581.5" cy="400.5" r="3.45"/><circle cx="592.5" cy="394.5" r="3.45"/><circle cx="602.5" cy="381.5" r="3.45"/><circle cx="612.5" cy="378.5" r="3.45"/><circle cx="622.5" cy="385.5" r="3.45"/><circle cx="632.5" cy="361.5" r="3.45"/><circle cx="643.5" cy="370.5" r="3.45"/><circle cx="653.5" cy="354.5" r="3.45"/><circle cx="663.5" cy="353.5" r="3.45"/><circle cx="673.5" cy="353.5" r="3.45"/><circle cx="683.5" cy="351.5" r="3.45"/><circle cx="694.5" cy="350.5" r="3.45"/><circle cx="704.5" cy="339.5" r="3.45"/><circle cx="714.5" cy="338.5" r="3.45"/><circle cx="724.5" cy="340.5" r="3.45"/><circle cx="734.5" cy="337.5" r="3.45"/><circle cx="745.5" cy="337.5" r="3.45"/><circle cx="755.5" cy="333.5" r="3.45"/><circle cx="765.5" cy="331.5" r="3.45"/><circle cx="775.5" cy="331.5" r="3.45"/><circle cx="786.5" cy="328.5" r="3.45"/><circle cx="796.5" cy="333.5" r="3.45"/><circle cx="806.5" cy="331.5" r="3.45"/><circle cx="816.5" cy="330.5" r="3.45"/><circle cx="826.5" cy="337.5" r="3.45"/><circle cx="837.5" cy="334.5" r="3.45"/><circle cx="847.5" cy="333.5" r="3.45"/><circle cx="857.5" cy="335.5" r="3.45"/><circle cx="867.5" cy="340.5" r="3.45"/><circle cx="877.5" cy="338.5" r="3.45"/><circle cx="888.5" cy="342.5" r="3.45"/><circle cx="898.5" cy="335.5" r="3.45"/><circle cx="908.5" cy="345.5" r="3.45"/><circle cx="918.5" cy="348.5" r="3.45"/><circle cx="928.5" cy="334.5" r="3.45"/><circle cx="939.5" cy="339.5" r="3.45"/><circle cx="949.5" cy="342.5" r="3.45"/><circle cx="959.5" cy="351.5" r="3.45"/><circle cx="969.5" cy="348.5" r="3.45"/><circle cx="979.5" cy="348.5" r="3.45"/><circle cx="990.5" cy="352.5" r="3.45"/><circle cx="1000.5" cy="355.5" r="3.45"/><circle cx="1010.5" cy="356.5" r="3.45"/><circle cx="1020.5" cy="366.5" r="3.45"/><circle cx="1031.5" cy="360.5" r="3.45"/><circle cx="1041.5" cy="358.5" r="3.45"/><circle cx="1051.5" cy="360.5" r="3.45"/><circle cx="1061.5" cy="351.5" r="3.45"/><circle cx="1071.5" cy="356.5" r="3.45"/><circle cx="1082.5" cy="349.5" r="3.45"/><circle cx="1092.5" cy="340.5" r="3.45"/><circle cx="1102.5" cy="338.5" r="3.45"/><circle cx="1112.5" cy="335.5" r="3.45"/><circle cx="1122.5" cy="324.5" r="3.45"/><circle cx="1133.5" cy="336.5" r="3.45"/><circle cx="1143.5" cy="434.5" r="3.45"/></g>
<text x="223.3" y="934.8" font-size="30.2" text-anchor="middle" textLength="24.9" lengthAdjust="spacingAndGlyphs">-8</text>
<text x="338.425" y="934.8" font-size="30.2" text-anchor="middle" textLength="24.9" lengthAdjust="spacingAndGlyphs">-7</text>
<text x="453.55" y="934.8" font-size="30.2" text-anchor="middle" textLength="24.9" lengthAdjust="spacingAndGlyphs">-6</text>
<text x="568.675" y="934.8" font-size="30.2" text-anchor="middle" textLength="24.9" lengthAdjust="spacingAndGlyphs">-5</text>
<text x="683.8" y="934.8" font-size="30.2" text-anchor="middle" textLength="24.9" lengthAdjust="spacingAndGlyphs">-4</text>
<text x="798.925" y="934.8" font-size="30.2" text-anchor="middle" textLength="24.9" lengthAdjust="spacingAndGlyphs">-3</text>
<text x="914.05" y="934.8" font-size="30.2" text-anchor="middle" textLength="24.9" lengthAdjust="spacingAndGlyphs">-2</text>
<text x="1019.64" y="935.0" font-size="28">-</text>
<path d="M1040.00 934.80L1035.94 934.80L1035.94 921.19L1031.10 921.19L1031.10 918.31Q1034.29 918.14 1035.55 916.88Q1036.67 915.90 1037.09 914.86L1040.00 914.86Z" fill="#000"/>
<text x="1144.3" y="934.8" font-size="30.2" text-anchor="middle" textLength="15.57" lengthAdjust="spacingAndGlyphs">0</text>
<path d="M83.90 208.71L79.84 208.71L79.84 195.10L75.00 195.10L75.00 192.21Q78.19 192.05 79.45 190.79Q80.57 189.81 80.99 188.77L83.90 188.77Z" fill="#000"/>
<text x="88.44" y="209.3" font-size="30.6" textLength="15.57" lengthAdjust="spacingAndGlyphs">0</text>
<text x="103.8" y="196.8" font-size="19">-</text>
<path d="M117.59 196.81L114.83 196.81L114.83 187.57L111.54 187.57L111.54 185.61Q113.71 185.50 114.56 184.65Q115.32 183.98 115.61 183.28L117.59 183.28Z" fill="#000"/>
<path d="M80.83 402.92L76.77 402.92L76.77 389.32L71.93 389.32L71.93 386.43Q75.12 386.26 76.38 385.00Q77.50 384.02 77.92 382.99L80.83 382.99Z" fill="#000"/>
<text x="85.37" y="403.5" font-size="30.6" textLength="15.57" lengthAdjust="spacingAndGlyphs">0</text>
<text x="100.73" y="390.9" font-size="21.4" textLength="16.9" lengthAdjust="spacingAndGlyphs">-2</text>
<path d="M80.83 597.14L76.77 597.14L76.77 583.54L71.93 583.54L71.93 580.65Q75.12 580.49 76.38 579.23Q77.50 578.25 77.92 577.21L80.83 577.21Z" fill="#000"/>
<text x="85.37" y="597.7" font-size="30.6" textLength="15.57" lengthAdjust="spacingAndGlyphs">0</text>
<text x="100.73" y="585.1" font-size="21.4" textLength="16.9" lengthAdjust="spacingAndGlyphs">-3</text>
<path d="M80.83 791.36L76.77 791.36L76.77 777.76L71.93 777.76L71.93 774.87Q75.12 774.70 76.38 773.44Q77.50 772.46 77.92 771.43L80.83 771.43Z" fill="#000"/>
<text x="85.37" y="792.0" font-size="30.6" textLength="15.57" lengthAdjust="spacingAndGlyphs">0</text>
<text x="100.73" y="779.4" font-size="21.4" textLength="16.9" lengthAdjust="spacingAndGlyphs">-4</text>
<text x="1149" y="971" font-size="28" text-anchor="end" textLength="436" lengthAdjust="spacingAndGlyphs">Downstream Proton MuonBkgLL</text>
<g>
<rect x="599" y="105" width="87" height="148" fill="#000" shape-rendering="crispEdges"/>
<rect x="593.5" y="99.5" width="89" height="150" fill="#f2f2f2" stroke="#000" stroke-width="1" shape-rendering="crispEdges"/>
<text x="604.6" y="116.9" font-size="18.6">Electron</text>
<path shape-rendering="crispEdges" fill="#ff0000" d="M598 109h1v1h-1zM597 110h2v1h-2zM597 111h3v1h-3zM596 112h4v1h-4zM596 113h5v1h-5zM595 114h6v1h-6z"/>
<text x="604.6" y="141.8" font-size="18.6">Muon</text>
<circle cx="598.5" cy="136.5" r="3.45" fill="#0000ff"/>
<text x="604.6" y="166.7" font-size="18.6">Pion</text>
<path shape-rendering="crispEdges" fill="#009900" d="M594 157h7v1h-7zM595 158h6v1h-6zM596 159h5v1h-5zM596 160h4v1h-4zM597 161h3v1h-3zM597 162h2v1h-2zM598 163h1v1h-1z"/>
<text x="604.6" y="191.6" font-size="18.6">Kaon</text>
<path shape-rendering="crispEdges" fill="#990099" d="M594 182h6v6h-6z"/>
<text x="604.6" y="216.5" font-size="18.6">Proton</text>
<path shape-rendering="crispEdges" fill="#66cccc" d="M596 207h3v7h-3zM594 209h7v3h-7z"/>
<text x="604.6" y="241.4" font-size="18.6">Ghost</text>
<path shape-rendering="crispEdges" fill="#000000" d="M598 233h1v1h-1zM597 234h2v5h-2zM596 235h4v3h-4zM595 236h1v1h-1z"/>
</g>
</svg></body></html>
